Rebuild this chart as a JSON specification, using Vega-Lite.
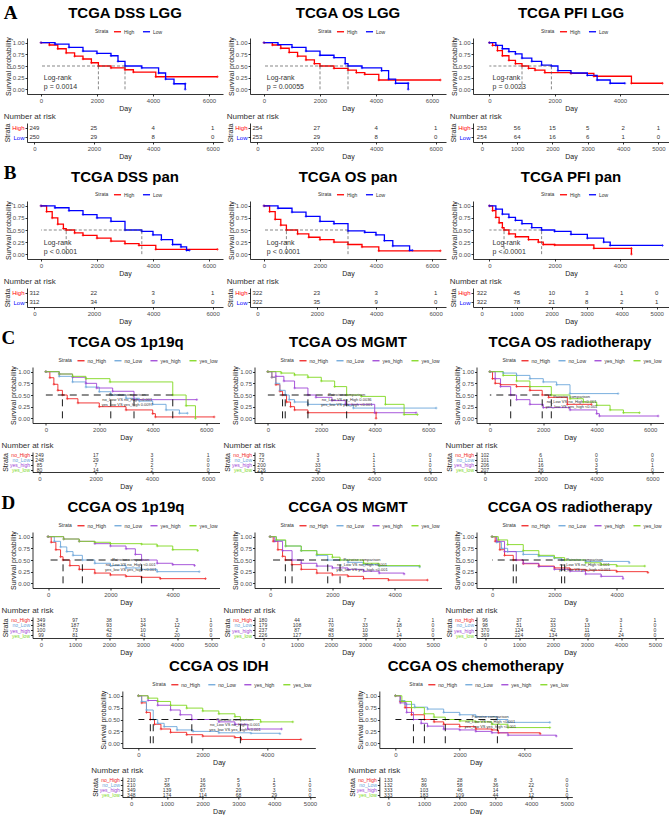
{
"$schema": "https://vega.github.io/schema/vega-lite/v6.json",
"padding": {"left": 1, "right": 1, "top": 3, "bottom": 1},
"datasets": {
"km": [
{"p":"A1","s":"High","t":0,"y":1},{"p":"A1","s":"High","t":300,"y":0.95},{"p":"A1","s":"High","t":600,"y":0.87},{"p":"A1","s":"High","t":900,"y":0.78},{"p":"A1","s":"High","t":1200,"y":0.71},{"p":"A1","s":"High","t":1500,"y":0.65},{"p":"A1","s":"High","t":1800,"y":0.57},{"p":"A1","s":"High","t":2050,"y":0.5},{"p":"A1","s":"High","t":2500,"y":0.46},{"p":"A1","s":"High","t":3000,"y":0.42},{"p":"A1","s":"High","t":3300,"y":0.37},{"p":"A1","s":"High","t":4100,"y":0.27},{"p":"A1","s":"High","t":6300,"y":0.27},
{"p":"A1","s":"Low","t":0,"y":1},{"p":"A1","s":"Low","t":500,"y":0.97},{"p":"A1","s":"Low","t":1000,"y":0.9},{"p":"A1","s":"Low","t":1500,"y":0.82},{"p":"A1","s":"Low","t":2000,"y":0.77},{"p":"A1","s":"Low","t":2500,"y":0.72},{"p":"A1","s":"Low","t":2750,"y":0.6},{"p":"A1","s":"Low","t":3000,"y":0.5},{"p":"A1","s":"Low","t":3600,"y":0.46},{"p":"A1","s":"Low","t":4200,"y":0.35},{"p":"A1","s":"Low","t":4450,"y":0.22},{"p":"A1","s":"Low","t":4750,"y":0.12},{"p":"A1","s":"Low","t":5150,"y":0.12},{"p":"A1","s":"Low","t":5150,"y":0},
{"p":"A2","s":"High","t":0,"y":1},{"p":"A2","s":"High","t":300,"y":0.95},{"p":"A2","s":"High","t":600,"y":0.88},{"p":"A2","s":"High","t":900,"y":0.79},{"p":"A2","s":"High","t":1200,"y":0.71},{"p":"A2","s":"High","t":1500,"y":0.63},{"p":"A2","s":"High","t":1800,"y":0.55},{"p":"A2","s":"High","t":2000,"y":0.5},{"p":"A2","s":"High","t":2500,"y":0.45},{"p":"A2","s":"High","t":3000,"y":0.41},{"p":"A2","s":"High","t":3300,"y":0.36},{"p":"A2","s":"High","t":3600,"y":0.32},{"p":"A2","s":"High","t":4100,"y":0.2},{"p":"A2","s":"High","t":6300,"y":0.2},
{"p":"A2","s":"Low","t":0,"y":1},{"p":"A2","s":"Low","t":500,"y":0.96},{"p":"A2","s":"Low","t":1000,"y":0.9},{"p":"A2","s":"Low","t":1500,"y":0.82},{"p":"A2","s":"Low","t":2000,"y":0.73},{"p":"A2","s":"Low","t":2500,"y":0.68},{"p":"A2","s":"Low","t":2900,"y":0.55},{"p":"A2","s":"Low","t":3000,"y":0.5},{"p":"A2","s":"Low","t":3500,"y":0.46},{"p":"A2","s":"Low","t":4200,"y":0.4},{"p":"A2","s":"Low","t":4450,"y":0.22},{"p":"A2","s":"Low","t":4700,"y":0.13},{"p":"A2","s":"Low","t":5150,"y":0.13},{"p":"A2","s":"Low","t":5150,"y":0},
{"p":"A3","s":"High","t":0,"y":1},{"p":"A3","s":"High","t":100,"y":0.94},{"p":"A3","s":"High","t":250,"y":0.83},{"p":"A3","s":"High","t":400,"y":0.72},{"p":"A3","s":"High","t":600,"y":0.62},{"p":"A3","s":"High","t":800,"y":0.55},{"p":"A3","s":"High","t":1000,"y":0.5},{"p":"A3","s":"High","t":1200,"y":0.45},{"p":"A3","s":"High","t":1400,"y":0.41},{"p":"A3","s":"High","t":1700,"y":0.36},{"p":"A3","s":"High","t":2500,"y":0.34},{"p":"A3","s":"High","t":3200,"y":0.28},{"p":"A3","s":"High","t":4350,"y":0.13},{"p":"A3","s":"High","t":5300,"y":0.13},
{"p":"A3","s":"Low","t":0,"y":1},{"p":"A3","s":"Low","t":200,"y":0.94},{"p":"A3","s":"Low","t":400,"y":0.87},{"p":"A3","s":"Low","t":600,"y":0.81},{"p":"A3","s":"Low","t":800,"y":0.76},{"p":"A3","s":"Low","t":1000,"y":0.67},{"p":"A3","s":"Low","t":1300,"y":0.6},{"p":"A3","s":"Low","t":1600,"y":0.52},{"p":"A3","s":"Low","t":1900,"y":0.5},{"p":"A3","s":"Low","t":2100,"y":0.4},{"p":"A3","s":"Low","t":2500,"y":0.35},{"p":"A3","s":"Low","t":3000,"y":0.3},{"p":"A3","s":"Low","t":3300,"y":0.2},{"p":"A3","s":"Low","t":3700,"y":0.13},{"p":"A3","s":"Low","t":4150,"y":0.13},
{"p":"B1","s":"High","t":0,"y":1},{"p":"B1","s":"High","t":200,"y":0.88},{"p":"B1","s":"High","t":400,"y":0.75},{"p":"B1","s":"High","t":600,"y":0.62},{"p":"B1","s":"High","t":800,"y":0.53},{"p":"B1","s":"High","t":900,"y":0.5},{"p":"B1","s":"High","t":1200,"y":0.44},{"p":"B1","s":"High","t":1500,"y":0.39},{"p":"B1","s":"High","t":2000,"y":0.33},{"p":"B1","s":"High","t":2500,"y":0.27},{"p":"B1","s":"High","t":3000,"y":0.22},{"p":"B1","s":"High","t":3500,"y":0.18},{"p":"B1","s":"High","t":4100,"y":0.1},{"p":"B1","s":"High","t":6300,"y":0.1},
{"p":"B1","s":"Low","t":0,"y":1},{"p":"B1","s":"Low","t":500,"y":0.96},{"p":"B1","s":"Low","t":1000,"y":0.9},{"p":"B1","s":"Low","t":1500,"y":0.82},{"p":"B1","s":"Low","t":2000,"y":0.75},{"p":"B1","s":"Low","t":2500,"y":0.68},{"p":"B1","s":"Low","t":3000,"y":0.5},{"p":"B1","s":"Low","t":3600,"y":0.47},{"p":"B1","s":"Low","t":4000,"y":0.4},{"p":"B1","s":"Low","t":4300,"y":0.3},{"p":"B1","s":"Low","t":4700,"y":0.2},{"p":"B1","s":"Low","t":5000,"y":0.15},{"p":"B1","s":"Low","t":5200,"y":0.08},{"p":"B1","s":"Low","t":5300,"y":0.08},
{"p":"B2","s":"High","t":0,"y":1},{"p":"B2","s":"High","t":200,"y":0.88},{"p":"B2","s":"High","t":400,"y":0.72},{"p":"B2","s":"High","t":600,"y":0.6},{"p":"B2","s":"High","t":800,"y":0.5},{"p":"B2","s":"High","t":1200,"y":0.42},{"p":"B2","s":"High","t":1600,"y":0.35},{"p":"B2","s":"High","t":2000,"y":0.3},{"p":"B2","s":"High","t":2500,"y":0.25},{"p":"B2","s":"High","t":3000,"y":0.2},{"p":"B2","s":"High","t":3500,"y":0.15},{"p":"B2","s":"High","t":4100,"y":0.07},{"p":"B2","s":"High","t":6300,"y":0.07},
{"p":"B2","s":"Low","t":0,"y":1},{"p":"B2","s":"Low","t":500,"y":0.95},{"p":"B2","s":"Low","t":1000,"y":0.87},{"p":"B2","s":"Low","t":1500,"y":0.78},{"p":"B2","s":"Low","t":2000,"y":0.68},{"p":"B2","s":"Low","t":2500,"y":0.63},{"p":"B2","s":"Low","t":3000,"y":0.48},{"p":"B2","s":"Low","t":3600,"y":0.45},{"p":"B2","s":"Low","t":4000,"y":0.4},{"p":"B2","s":"Low","t":4300,"y":0.28},{"p":"B2","s":"Low","t":4600,"y":0.17},{"p":"B2","s":"Low","t":5200,"y":0.08},{"p":"B2","s":"Low","t":5300,"y":0.08},
{"p":"B3","s":"High","t":0,"y":1},{"p":"B3","s":"High","t":100,"y":0.9},{"p":"B3","s":"High","t":200,"y":0.76},{"p":"B3","s":"High","t":300,"y":0.65},{"p":"B3","s":"High","t":400,"y":0.55},{"p":"B3","s":"High","t":450,"y":0.5},{"p":"B3","s":"High","t":600,"y":0.42},{"p":"B3","s":"High","t":800,"y":0.36},{"p":"B3","s":"High","t":1200,"y":0.3},{"p":"B3","s":"High","t":1500,"y":0.25},{"p":"B3","s":"High","t":1650,"y":0.2},{"p":"B3","s":"High","t":2000,"y":0.19},{"p":"B3","s":"High","t":3200,"y":0.12},{"p":"B3","s":"High","t":4350,"y":0.12},{"p":"B3","s":"High","t":4350,"y":0},
{"p":"B3","s":"Low","t":0,"y":1},{"p":"B3","s":"Low","t":200,"y":0.93},{"p":"B3","s":"Low","t":400,"y":0.83},{"p":"B3","s":"Low","t":600,"y":0.76},{"p":"B3","s":"Low","t":800,"y":0.7},{"p":"B3","s":"Low","t":1000,"y":0.63},{"p":"B3","s":"Low","t":1300,"y":0.55},{"p":"B3","s":"Low","t":1600,"y":0.5},{"p":"B3","s":"Low","t":2000,"y":0.47},{"p":"B3","s":"Low","t":2500,"y":0.41},{"p":"B3","s":"Low","t":3000,"y":0.33},{"p":"B3","s":"Low","t":3500,"y":0.25},{"p":"B3","s":"Low","t":3700,"y":0.18},{"p":"B3","s":"Low","t":5300,"y":0.18},
{"p":"C1","s":"no_High","t":0,"y":1},{"p":"C1","s":"no_High","t":150,"y":0.87},{"p":"C1","s":"no_High","t":300,"y":0.73},{"p":"C1","s":"no_High","t":450,"y":0.6},{"p":"C1","s":"no_High","t":620,"y":0.5},{"p":"C1","s":"no_High","t":800,"y":0.42},{"p":"C1","s":"no_High","t":1200,"y":0.33},{"p":"C1","s":"no_High","t":2000,"y":0.25},{"p":"C1","s":"no_High","t":3000,"y":0.18},{"p":"C1","s":"no_High","t":4000,"y":0.1},{"p":"C1","s":"no_High","t":4100,"y":0.03},{"p":"C1","s":"no_High","t":6300,"y":0.03},
{"p":"C1","s":"no_Low","t":0,"y":1},{"p":"C1","s":"no_Low","t":500,"y":0.9},{"p":"C1","s":"no_Low","t":1000,"y":0.78},{"p":"C1","s":"no_Low","t":1500,"y":0.67},{"p":"C1","s":"no_Low","t":2000,"y":0.57},{"p":"C1","s":"no_Low","t":2430,"y":0.5},{"p":"C1","s":"no_Low","t":3000,"y":0.43},{"p":"C1","s":"no_Low","t":3500,"y":0.37},{"p":"C1","s":"no_Low","t":4000,"y":0.3},{"p":"C1","s":"no_Low","t":4500,"y":0.18},{"p":"C1","s":"no_Low","t":5000,"y":0.11},{"p":"C1","s":"no_Low","t":5300,"y":0.11},
{"p":"C1","s":"yes_high","t":0,"y":1},{"p":"C1","s":"yes_high","t":500,"y":0.95},{"p":"C1","s":"yes_high","t":1000,"y":0.88},{"p":"C1","s":"yes_high","t":1500,"y":0.75},{"p":"C1","s":"yes_high","t":1900,"y":0.65},{"p":"C1","s":"yes_high","t":2500,"y":0.58},{"p":"C1","s":"yes_high","t":3300,"y":0.4},{"p":"C1","s":"yes_high","t":5650,"y":0.4},
{"p":"C1","s":"yes_low","t":0,"y":1},{"p":"C1","s":"yes_low","t":500,"y":0.95},{"p":"C1","s":"yes_low","t":1000,"y":0.9},{"p":"C1","s":"yes_low","t":1500,"y":0.85},{"p":"C1","s":"yes_low","t":2400,"y":0.78},{"p":"C1","s":"yes_low","t":4750,"y":0.5},{"p":"C1","s":"yes_low","t":5250,"y":0.27},{"p":"C1","s":"yes_low","t":5600,"y":0},
{"p":"C2","s":"no_High","t":0,"y":1},{"p":"C2","s":"no_High","t":150,"y":0.88},{"p":"C2","s":"no_High","t":300,"y":0.72},{"p":"C2","s":"no_High","t":450,"y":0.58},{"p":"C2","s":"no_High","t":550,"y":0.5},{"p":"C2","s":"no_High","t":700,"y":0.35},{"p":"C2","s":"no_High","t":850,"y":0.25},{"p":"C2","s":"no_High","t":1000,"y":0.18},{"p":"C2","s":"no_High","t":1500,"y":0.12},{"p":"C2","s":"no_High","t":4050,"y":0.12},{"p":"C2","s":"no_High","t":4050,"y":0},
{"p":"C2","s":"no_Low","t":0,"y":1},{"p":"C2","s":"no_Low","t":150,"y":0.88},{"p":"C2","s":"no_Low","t":300,"y":0.75},{"p":"C2","s":"no_Low","t":450,"y":0.6},{"p":"C2","s":"no_Low","t":650,"y":0.5},{"p":"C2","s":"no_Low","t":800,"y":0.4},{"p":"C2","s":"no_Low","t":1000,"y":0.35},{"p":"C2","s":"no_Low","t":1500,"y":0.3},{"p":"C2","s":"no_Low","t":3000,"y":0.28},{"p":"C2","s":"no_Low","t":3200,"y":0.22},{"p":"C2","s":"no_Low","t":6300,"y":0.22},
{"p":"C2","s":"yes_high","t":0,"y":1},{"p":"C2","s":"yes_high","t":300,"y":0.9},{"p":"C2","s":"yes_high","t":600,"y":0.8},{"p":"C2","s":"yes_high","t":1000,"y":0.65},{"p":"C2","s":"yes_high","t":1500,"y":0.5},{"p":"C2","s":"yes_high","t":1800,"y":0.45},{"p":"C2","s":"yes_high","t":2400,"y":0.38},{"p":"C2","s":"yes_high","t":2900,"y":0.3},{"p":"C2","s":"yes_high","t":4000,"y":0.12},{"p":"C2","s":"yes_high","t":5550,"y":0.12},
{"p":"C2","s":"yes_low","t":0,"y":1},{"p":"C2","s":"yes_low","t":500,"y":0.97},{"p":"C2","s":"yes_low","t":1000,"y":0.93},{"p":"C2","s":"yes_low","t":1500,"y":0.88},{"p":"C2","s":"yes_low","t":2000,"y":0.8},{"p":"C2","s":"yes_low","t":2500,"y":0.68},{"p":"C2","s":"yes_low","t":2950,"y":0.5},{"p":"C2","s":"yes_low","t":3500,"y":0.47},{"p":"C2","s":"yes_low","t":4400,"y":0.3},{"p":"C2","s":"yes_low","t":5100,"y":0.08},{"p":"C2","s":"yes_low","t":5600,"y":0.08},
{"p":"C3","s":"no_High","t":0,"y":1},{"p":"C3","s":"no_High","t":100,"y":0.85},{"p":"C3","s":"no_High","t":200,"y":0.75},{"p":"C3","s":"no_High","t":400,"y":0.72},{"p":"C3","s":"no_High","t":1000,"y":0.68},{"p":"C3","s":"no_High","t":1500,"y":0.6},{"p":"C3","s":"no_High","t":1960,"y":0.5},{"p":"C3","s":"no_High","t":2200,"y":0.45},{"p":"C3","s":"no_High","t":2900,"y":0.3},{"p":"C3","s":"no_High","t":3800,"y":0.3},
{"p":"C3","s":"no_Low","t":0,"y":1},{"p":"C3","s":"no_Low","t":500,"y":0.97},{"p":"C3","s":"no_Low","t":1000,"y":0.92},{"p":"C3","s":"no_Low","t":1500,"y":0.85},{"p":"C3","s":"no_Low","t":2000,"y":0.78},{"p":"C3","s":"no_Low","t":2500,"y":0.72},{"p":"C3","s":"no_Low","t":3000,"y":0.53},{"p":"C3","s":"no_Low","t":4800,"y":0.53},
{"p":"C3","s":"yes_high","t":0,"y":1},{"p":"C3","s":"yes_high","t":200,"y":0.85},{"p":"C3","s":"yes_high","t":400,"y":0.68},{"p":"C3","s":"yes_high","t":780,"y":0.5},{"p":"C3","s":"yes_high","t":1000,"y":0.4},{"p":"C3","s":"yes_high","t":1500,"y":0.3},{"p":"C3","s":"yes_high","t":2000,"y":0.23},{"p":"C3","s":"yes_high","t":3000,"y":0.18},{"p":"C3","s":"yes_high","t":4000,"y":0.1},{"p":"C3","s":"yes_high","t":4100,"y":0.05},{"p":"C3","s":"yes_high","t":6300,"y":0.05},
{"p":"C3","s":"yes_low","t":0,"y":1},{"p":"C3","s":"yes_low","t":500,"y":0.92},{"p":"C3","s":"yes_low","t":1000,"y":0.8},{"p":"C3","s":"yes_low","t":1500,"y":0.68},{"p":"C3","s":"yes_low","t":2300,"y":0.5},{"p":"C3","s":"yes_low","t":3000,"y":0.42},{"p":"C3","s":"yes_low","t":3500,"y":0.35},{"p":"C3","s":"yes_low","t":4000,"y":0.28},{"p":"C3","s":"yes_low","t":4500,"y":0.18},{"p":"C3","s":"yes_low","t":5000,"y":0.12},{"p":"C3","s":"yes_low","t":5600,"y":0.12},
{"p":"D1","s":"no_High","t":0,"y":1},{"p":"D1","s":"no_High","t":100,"y":0.88},{"p":"D1","s":"no_High","t":250,"y":0.72},{"p":"D1","s":"no_High","t":400,"y":0.57},{"p":"D1","s":"no_High","t":480,"y":0.5},{"p":"D1","s":"no_High","t":700,"y":0.38},{"p":"D1","s":"no_High","t":1000,"y":0.3},{"p":"D1","s":"no_High","t":1500,"y":0.22},{"p":"D1","s":"no_High","t":2000,"y":0.18},{"p":"D1","s":"no_High","t":2500,"y":0.15},{"p":"D1","s":"no_High","t":3000,"y":0.13},{"p":"D1","s":"no_High","t":3600,"y":0.1},{"p":"D1","s":"no_High","t":5050,"y":0.1},
{"p":"D1","s":"no_Low","t":0,"y":1},{"p":"D1","s":"no_Low","t":200,"y":0.9},{"p":"D1","s":"no_Low","t":400,"y":0.78},{"p":"D1","s":"no_Low","t":600,"y":0.68},{"p":"D1","s":"no_Low","t":800,"y":0.6},{"p":"D1","s":"no_Low","t":1100,"y":0.5},{"p":"D1","s":"no_Low","t":1500,"y":0.43},{"p":"D1","s":"no_Low","t":2000,"y":0.38},{"p":"D1","s":"no_Low","t":2500,"y":0.33},{"p":"D1","s":"no_Low","t":3000,"y":0.3},{"p":"D1","s":"no_Low","t":3500,"y":0.25},{"p":"D1","s":"no_Low","t":4850,"y":0.25},
{"p":"D1","s":"yes_high","t":0,"y":1},{"p":"D1","s":"yes_high","t":500,"y":0.95},{"p":"D1","s":"yes_high","t":1000,"y":0.9},{"p":"D1","s":"yes_high","t":1500,"y":0.85},{"p":"D1","s":"yes_high","t":2000,"y":0.8},{"p":"D1","s":"yes_high","t":2500,"y":0.74},{"p":"D1","s":"yes_high","t":2800,"y":0.62},{"p":"D1","s":"yes_high","t":3000,"y":0.5},{"p":"D1","s":"yes_high","t":3500,"y":0.43},{"p":"D1","s":"yes_high","t":4000,"y":0.4},{"p":"D1","s":"yes_high","t":4700,"y":0.38},
{"p":"D1","s":"yes_low","t":0,"y":1},{"p":"D1","s":"yes_low","t":500,"y":0.95},{"p":"D1","s":"yes_low","t":1000,"y":0.9},{"p":"D1","s":"yes_low","t":1500,"y":0.88},{"p":"D1","s":"yes_low","t":2000,"y":0.85},{"p":"D1","s":"yes_low","t":3000,"y":0.84},{"p":"D1","s":"yes_low","t":3500,"y":0.8},{"p":"D1","s":"yes_low","t":4000,"y":0.72},{"p":"D1","s":"yes_low","t":4800,"y":0.7},
{"p":"D2","s":"no_High","t":0,"y":1},{"p":"D2","s":"no_High","t":100,"y":0.9},{"p":"D2","s":"no_High","t":250,"y":0.72},{"p":"D2","s":"no_High","t":400,"y":0.58},{"p":"D2","s":"no_High","t":490,"y":0.5},{"p":"D2","s":"no_High","t":700,"y":0.4},{"p":"D2","s":"no_High","t":1000,"y":0.3},{"p":"D2","s":"no_High","t":1500,"y":0.22},{"p":"D2","s":"no_High","t":2000,"y":0.18},{"p":"D2","s":"no_High","t":2500,"y":0.15},{"p":"D2","s":"no_High","t":3000,"y":0.1},{"p":"D2","s":"no_High","t":3800,"y":0.07},{"p":"D2","s":"no_High","t":5050,"y":0.07},
{"p":"D2","s":"no_Low","t":0,"y":1},{"p":"D2","s":"no_Low","t":200,"y":0.92},{"p":"D2","s":"no_Low","t":500,"y":0.8},{"p":"D2","s":"no_Low","t":1000,"y":0.7},{"p":"D2","s":"no_Low","t":1500,"y":0.6},{"p":"D2","s":"no_Low","t":1850,"y":0.5},{"p":"D2","s":"no_Low","t":2500,"y":0.45},{"p":"D2","s":"no_Low","t":3000,"y":0.4},{"p":"D2","s":"no_Low","t":3500,"y":0.37},{"p":"D2","s":"no_Low","t":4800,"y":0.35},
{"p":"D2","s":"yes_high","t":0,"y":1},{"p":"D2","s":"yes_high","t":150,"y":0.9},{"p":"D2","s":"yes_high","t":400,"y":0.7},{"p":"D2","s":"yes_high","t":705,"y":0.5},{"p":"D2","s":"yes_high","t":1000,"y":0.43},{"p":"D2","s":"yes_high","t":1500,"y":0.37},{"p":"D2","s":"yes_high","t":2000,"y":0.33},{"p":"D2","s":"yes_high","t":2500,"y":0.3},{"p":"D2","s":"yes_high","t":3000,"y":0.26},{"p":"D2","s":"yes_high","t":3500,"y":0.22},{"p":"D2","s":"yes_high","t":4300,"y":0.2},
{"p":"D2","s":"yes_low","t":0,"y":1},{"p":"D2","s":"yes_low","t":200,"y":0.93},{"p":"D2","s":"yes_low","t":500,"y":0.8},{"p":"D2","s":"yes_low","t":1000,"y":0.7},{"p":"D2","s":"yes_low","t":1500,"y":0.62},{"p":"D2","s":"yes_low","t":2000,"y":0.56},{"p":"D2","s":"yes_low","t":2245,"y":0.5},{"p":"D2","s":"yes_low","t":3000,"y":0.43},{"p":"D2","s":"yes_low","t":3500,"y":0.38},{"p":"D2","s":"yes_low","t":4800,"y":0.37},
{"p":"D3","s":"no_High","t":0,"y":1},{"p":"D3","s":"no_High","t":100,"y":0.9},{"p":"D3","s":"no_High","t":250,"y":0.72},{"p":"D3","s":"no_High","t":400,"y":0.6},{"p":"D3","s":"no_High","t":680,"y":0.5},{"p":"D3","s":"no_High","t":1000,"y":0.42},{"p":"D3","s":"no_High","t":1500,"y":0.37},{"p":"D3","s":"no_High","t":2000,"y":0.33},{"p":"D3","s":"no_High","t":2500,"y":0.3},{"p":"D3","s":"no_High","t":3000,"y":0.28},{"p":"D3","s":"no_High","t":4000,"y":0.25},{"p":"D3","s":"no_High","t":5000,"y":0.23},
{"p":"D3","s":"no_Low","t":0,"y":1},{"p":"D3","s":"no_Low","t":150,"y":0.88},{"p":"D3","s":"no_Low","t":300,"y":0.75},{"p":"D3","s":"no_Low","t":500,"y":0.68},{"p":"D3","s":"no_Low","t":1000,"y":0.62},{"p":"D3","s":"no_Low","t":1500,"y":0.58},{"p":"D3","s":"no_Low","t":2000,"y":0.54},{"p":"D3","s":"no_Low","t":2230,"y":0.5},{"p":"D3","s":"no_Low","t":3000,"y":0.47},{"p":"D3","s":"no_Low","t":4400,"y":0.44},
{"p":"D3","s":"yes_high","t":0,"y":1},{"p":"D3","s":"yes_high","t":150,"y":0.9},{"p":"D3","s":"yes_high","t":400,"y":0.68},{"p":"D3","s":"yes_high","t":775,"y":0.5},{"p":"D3","s":"yes_high","t":1000,"y":0.43},{"p":"D3","s":"yes_high","t":1500,"y":0.36},{"p":"D3","s":"yes_high","t":2000,"y":0.3},{"p":"D3","s":"yes_high","t":2500,"y":0.26},{"p":"D3","s":"yes_high","t":3000,"y":0.2},{"p":"D3","s":"yes_high","t":3500,"y":0.15},{"p":"D3","s":"yes_high","t":4200,"y":0.1},
{"p":"D3","s":"yes_low","t":0,"y":1},{"p":"D3","s":"yes_low","t":200,"y":0.93},{"p":"D3","s":"yes_low","t":500,"y":0.83},{"p":"D3","s":"yes_low","t":1000,"y":0.7},{"p":"D3","s":"yes_low","t":1500,"y":0.6},{"p":"D3","s":"yes_low","t":2000,"y":0.55},{"p":"D3","s":"yes_low","t":2330,"y":0.5},{"p":"D3","s":"yes_low","t":3000,"y":0.44},{"p":"D3","s":"yes_low","t":3500,"y":0.4},{"p":"D3","s":"yes_low","t":4000,"y":0.37},{"p":"D3","s":"yes_low","t":4900,"y":0.37},
{"p":"E1","s":"no_High","t":0,"y":1},{"p":"E1","s":"no_High","t":100,"y":0.85},{"p":"E1","s":"no_High","t":250,"y":0.65},{"p":"E1","s":"no_High","t":370,"y":0.5},{"p":"E1","s":"no_High","t":500,"y":0.4},{"p":"E1","s":"no_High","t":700,"y":0.3},{"p":"E1","s":"no_High","t":1000,"y":0.23},{"p":"E1","s":"no_High","t":1500,"y":0.18},{"p":"E1","s":"no_High","t":2000,"y":0.15},{"p":"E1","s":"no_High","t":3000,"y":0.12},{"p":"E1","s":"no_High","t":3200,"y":0.08},{"p":"E1","s":"no_High","t":5050,"y":0.08},
{"p":"E1","s":"no_Low","t":0,"y":1},{"p":"E1","s":"no_Low","t":100,"y":0.88},{"p":"E1","s":"no_Low","t":250,"y":0.7},{"p":"E1","s":"no_Low","t":460,"y":0.5},{"p":"E1","s":"no_Low","t":600,"y":0.42},{"p":"E1","s":"no_Low","t":800,"y":0.35},{"p":"E1","s":"no_Low","t":1200,"y":0.28},{"p":"E1","s":"no_Low","t":1700,"y":0.25},{"p":"E1","s":"no_Low","t":2500,"y":0.22},{"p":"E1","s":"no_Low","t":3500,"y":0.21},{"p":"E1","s":"no_Low","t":4400,"y":0.2},
{"p":"E1","s":"yes_high","t":0,"y":1},{"p":"E1","s":"yes_high","t":300,"y":0.9},{"p":"E1","s":"yes_high","t":600,"y":0.8},{"p":"E1","s":"yes_high","t":1000,"y":0.7},{"p":"E1","s":"yes_high","t":1300,"y":0.6},{"p":"E1","s":"yes_high","t":1660,"y":0.5},{"p":"E1","s":"yes_high","t":2500,"y":0.45},{"p":"E1","s":"yes_high","t":3000,"y":0.4},{"p":"E1","s":"yes_high","t":3400,"y":0.3},{"p":"E1","s":"yes_high","t":4450,"y":0.3},
{"p":"E1","s":"yes_low","t":0,"y":1},{"p":"E1","s":"yes_low","t":300,"y":0.95},{"p":"E1","s":"yes_low","t":600,"y":0.88},{"p":"E1","s":"yes_low","t":1000,"y":0.8},{"p":"E1","s":"yes_low","t":1500,"y":0.74},{"p":"E1","s":"yes_low","t":2000,"y":0.68},{"p":"E1","s":"yes_low","t":2500,"y":0.62},{"p":"E1","s":"yes_low","t":3000,"y":0.56},{"p":"E1","s":"yes_low","t":3170,"y":0.5},{"p":"E1","s":"yes_low","t":3800,"y":0.45},{"p":"E1","s":"yes_low","t":4800,"y":0.45},
{"p":"E2","s":"no_High","t":0,"y":1},{"p":"E2","s":"no_High","t":150,"y":0.88},{"p":"E2","s":"no_High","t":300,"y":0.75},{"p":"E2","s":"no_High","t":500,"y":0.6},{"p":"E2","s":"no_High","t":900,"y":0.5},{"p":"E2","s":"no_High","t":1200,"y":0.45},{"p":"E2","s":"no_High","t":1500,"y":0.4},{"p":"E2","s":"no_High","t":2000,"y":0.35},{"p":"E2","s":"no_High","t":2500,"y":0.3},{"p":"E2","s":"no_High","t":3000,"y":0.28},{"p":"E2","s":"no_High","t":3200,"y":0.22},{"p":"E2","s":"no_High","t":4500,"y":0.2},
{"p":"E2","s":"no_Low","t":0,"y":1},{"p":"E2","s":"no_Low","t":150,"y":0.9},{"p":"E2","s":"no_Low","t":300,"y":0.82},{"p":"E2","s":"no_Low","t":600,"y":0.76},{"p":"E2","s":"no_Low","t":1000,"y":0.72},{"p":"E2","s":"no_Low","t":1500,"y":0.65},{"p":"E2","s":"no_Low","t":2000,"y":0.6},{"p":"E2","s":"no_Low","t":2500,"y":0.56},{"p":"E2","s":"no_Low","t":3170,"y":0.5},{"p":"E2","s":"no_Low","t":3500,"y":0.44},{"p":"E2","s":"no_Low","t":4800,"y":0.44},
{"p":"E2","s":"yes_high","t":0,"y":1},{"p":"E2","s":"yes_high","t":150,"y":0.85},{"p":"E2","s":"yes_high","t":350,"y":0.65},{"p":"E2","s":"yes_high","t":560,"y":0.5},{"p":"E2","s":"yes_high","t":800,"y":0.42},{"p":"E2","s":"yes_high","t":1000,"y":0.36},{"p":"E2","s":"yes_high","t":1500,"y":0.3},{"p":"E2","s":"yes_high","t":2000,"y":0.28},{"p":"E2","s":"yes_high","t":2500,"y":0.25},{"p":"E2","s":"yes_high","t":3000,"y":0.22},{"p":"E2","s":"yes_high","t":3500,"y":0.17},{"p":"E2","s":"yes_high","t":5000,"y":0.15},
{"p":"E2","s":"yes_low","t":0,"y":1},{"p":"E2","s":"yes_low","t":200,"y":0.88},{"p":"E2","s":"yes_low","t":500,"y":0.75},{"p":"E2","s":"yes_low","t":900,"y":0.62},{"p":"E2","s":"yes_low","t":1200,"y":0.55},{"p":"E2","s":"yes_low","t":1550,"y":0.5},{"p":"E2","s":"yes_low","t":2000,"y":0.47},{"p":"E2","s":"yes_low","t":2500,"y":0.45},{"p":"E2","s":"yes_low","t":3000,"y":0.4},{"p":"E2","s":"yes_low","t":3500,"y":0.33},{"p":"E2","s":"yes_low","t":4800,"y":0.33}
],
"med": [
{"p":"A1","t":2050},{"p":"A1","t":3000},{"p":"A2","t":2000},{"p":"A2","t":3000},{"p":"A3","t":1000},{"p":"A3","t":1900},
{"p":"B1","t":900},{"p":"B1","t":3600},{"p":"B2","t":800},{"p":"B2","t":3000},{"p":"B3","t":450},{"p":"B3","t":1600},
{"p":"C1","t":620},{"p":"C1","t":2430},{"p":"C1","t":3300},{"p":"C1","t":4750},
{"p":"C2","t":550},{"p":"C2","t":650},{"p":"C2","t":1500},{"p":"C2","t":2950},
{"p":"C3","t":780},{"p":"C3","t":1960},{"p":"C3","t":2300},
{"p":"D1","t":480},{"p":"D1","t":1100},{"p":"D1","t":3000},
{"p":"D2","t":490},{"p":"D2","t":705},{"p":"D2","t":1850},{"p":"D2","t":2245},
{"p":"D3","t":680},{"p":"D3","t":775},{"p":"D3","t":2230},{"p":"D3","t":2330},
{"p":"E1","t":370},{"p":"E1","t":460},{"p":"E1","t":1660},{"p":"E1","t":3170},
{"p":"E2","t":560},{"p":"E2","t":900},{"p":"E2","t":1550},{"p":"E2","t":3170}
],
"ann": [
{"p":"A1","label":"Log-rank|p = 0.0014"},{"p":"A2","label":"Log-rank|p = 0.00055"},{"p":"A3","label":"Log-rank|p = 0.0023"},
{"p":"B1","label":"Log-rank|p < 0.0001"},{"p":"B2","label":"Log-rank|p < 0.0001"},{"p":"B3","label":"Log-rank|p < 0.0001"},
{"p":"C1","label":"Pairwise comparison|no_Low VS no_High <0.001|yes_low VS yes_high 0.0097"},
{"p":"C2","label":"Pairwise comparison|no_Low VS no_High 0.0036|yes_low VS yes_high <0.001"},
{"p":"C3","label":"Pairwise comparison|no_Low VS no_High <0.001|yes_low VS yes_high <0.001"},
{"p":"D1","label":"Pairwise comparison|no_Low VS no_High <0.001|yes_low VS yes_high <0.001"},
{"p":"D2","label":"Pairwise comparison|no_Low VS no_High <0.001|yes_low VS yes_high <0.001"},
{"p":"D3","label":"Pairwise comparison|no_Low VS no_High <0.001|yes_low VS yes_high <0.001"},
{"p":"E1","label":"Pairwise comparison|no_Low VS no_High <0.001|yes_low VS yes_high <0.001"},
{"p":"E2","label":"Pairwise comparison|no_Low VS no_High <0.001|yes_low VS yes_high <0.001"}
],
"risk": [
{"p":"A1","s":"High","t":0,"n":249},{"p":"A1","s":"High","t":2000,"n":25},{"p":"A1","s":"High","t":4000,"n":4},{"p":"A1","s":"High","t":6000,"n":1},
{"p":"A1","s":"Low","t":0,"n":250},{"p":"A1","s":"Low","t":2000,"n":29},{"p":"A1","s":"Low","t":4000,"n":8},{"p":"A1","s":"Low","t":6000,"n":0},
{"p":"A2","s":"High","t":0,"n":254},{"p":"A2","s":"High","t":2000,"n":27},{"p":"A2","s":"High","t":4000,"n":4},{"p":"A2","s":"High","t":6000,"n":1},
{"p":"A2","s":"Low","t":0,"n":253},{"p":"A2","s":"Low","t":2000,"n":29},{"p":"A2","s":"Low","t":4000,"n":8},{"p":"A2","s":"Low","t":6000,"n":0},
{"p":"A3","s":"High","t":0,"n":253},{"p":"A3","s":"High","t":1000,"n":56},{"p":"A3","s":"High","t":2000,"n":15},{"p":"A3","s":"High","t":3000,"n":5},{"p":"A3","s":"High","t":4000,"n":2},{"p":"A3","s":"High","t":5000,"n":1},
{"p":"A3","s":"Low","t":0,"n":254},{"p":"A3","s":"Low","t":1000,"n":64},{"p":"A3","s":"Low","t":2000,"n":16},{"p":"A3","s":"Low","t":3000,"n":6},{"p":"A3","s":"Low","t":4000,"n":1},{"p":"A3","s":"Low","t":5000,"n":0},
{"p":"B1","s":"High","t":0,"n":312},{"p":"B1","s":"High","t":2000,"n":22},{"p":"B1","s":"High","t":4000,"n":3},{"p":"B1","s":"High","t":6000,"n":1},
{"p":"B1","s":"Low","t":0,"n":312},{"p":"B1","s":"Low","t":2000,"n":34},{"p":"B1","s":"Low","t":4000,"n":9},{"p":"B1","s":"Low","t":6000,"n":0},
{"p":"B2","s":"High","t":0,"n":322},{"p":"B2","s":"High","t":2000,"n":23},{"p":"B2","s":"High","t":4000,"n":3},{"p":"B2","s":"High","t":6000,"n":1},
{"p":"B2","s":"Low","t":0,"n":322},{"p":"B2","s":"Low","t":2000,"n":35},{"p":"B2","s":"Low","t":4000,"n":9},{"p":"B2","s":"Low","t":6000,"n":0},
{"p":"B3","s":"High","t":0,"n":322},{"p":"B3","s":"High","t":1000,"n":45},{"p":"B3","s":"High","t":2000,"n":10},{"p":"B3","s":"High","t":3000,"n":3},{"p":"B3","s":"High","t":4000,"n":1},{"p":"B3","s":"High","t":5000,"n":0},
{"p":"B3","s":"Low","t":0,"n":322},{"p":"B3","s":"Low","t":1000,"n":78},{"p":"B3","s":"Low","t":2000,"n":21},{"p":"B3","s":"Low","t":3000,"n":8},{"p":"B3","s":"Low","t":4000,"n":2},{"p":"B3","s":"Low","t":5000,"n":1},
{"p":"C1","s":"no_High","t":0,"n":249},{"p":"C1","s":"no_High","t":2000,"n":17},{"p":"C1","s":"no_High","t":4000,"n":3},{"p":"C1","s":"no_High","t":6000,"n":1},
{"p":"C1","s":"no_Low","t":0,"n":248},{"p":"C1","s":"no_Low","t":2000,"n":29},{"p":"C1","s":"no_Low","t":4000,"n":3},{"p":"C1","s":"no_Low","t":6000,"n":0},
{"p":"C1","s":"yes_high","t":0,"n":85},{"p":"C1","s":"yes_high","t":2000,"n":7},{"p":"C1","s":"yes_high","t":4000,"n":2},{"p":"C1","s":"yes_high","t":6000,"n":0},
{"p":"C1","s":"yes_low","t":0,"n":80},{"p":"C1","s":"yes_low","t":2000,"n":14},{"p":"C1","s":"yes_low","t":4000,"n":2},{"p":"C1","s":"yes_low","t":6000,"n":0},
{"p":"C2","s":"no_High","t":0,"n":79},{"p":"C2","s":"no_High","t":2000,"n":3},{"p":"C2","s":"no_High","t":4000,"n":1},{"p":"C2","s":"no_High","t":6000,"n":0},
{"p":"C2","s":"no_Low","t":0,"n":72},{"p":"C2","s":"no_Low","t":2000,"n":3},{"p":"C2","s":"no_Low","t":4000,"n":1},{"p":"C2","s":"no_Low","t":6000,"n":1},
{"p":"C2","s":"yes_high","t":0,"n":200},{"p":"C2","s":"yes_high","t":2000,"n":33},{"p":"C2","s":"yes_high","t":4000,"n":1},{"p":"C2","s":"yes_high","t":6000,"n":0},
{"p":"C2","s":"yes_low","t":0,"n":226},{"p":"C2","s":"yes_low","t":2000,"n":42},{"p":"C2","s":"yes_low","t":4000,"n":3},{"p":"C2","s":"yes_low","t":6000,"n":0},
{"p":"C3","s":"no_High","t":0,"n":102},{"p":"C3","s":"no_High","t":2000,"n":6},{"p":"C3","s":"no_High","t":4000,"n":0},{"p":"C3","s":"no_High","t":6000,"n":0},
{"p":"C3","s":"no_Low","t":0,"n":101},{"p":"C3","s":"no_Low","t":2000,"n":11},{"p":"C3","s":"no_Low","t":4000,"n":0},{"p":"C3","s":"no_Low","t":6000,"n":0},
{"p":"C3","s":"yes_high","t":0,"n":206},{"p":"C3","s":"yes_high","t":2000,"n":16},{"p":"C3","s":"yes_high","t":4000,"n":3},{"p":"C3","s":"yes_high","t":6000,"n":1},
{"p":"C3","s":"yes_low","t":0,"n":207},{"p":"C3","s":"yes_low","t":2000,"n":26},{"p":"C3","s":"yes_low","t":4000,"n":5},{"p":"C3","s":"yes_low","t":6000,"n":0},
{"p":"D1","s":"no_High","t":0,"n":349},{"p":"D1","s":"no_High","t":1000,"n":97},{"p":"D1","s":"no_High","t":2000,"n":38},{"p":"D1","s":"no_High","t":3000,"n":13},{"p":"D1","s":"no_High","t":4000,"n":3},{"p":"D1","s":"no_High","t":5000,"n":1},
{"p":"D1","s":"no_Low","t":0,"n":348},{"p":"D1","s":"no_Low","t":1000,"n":187},{"p":"D1","s":"no_Low","t":2000,"n":93},{"p":"D1","s":"no_Low","t":3000,"n":34},{"p":"D1","s":"no_Low","t":4000,"n":12},{"p":"D1","s":"no_Low","t":5000,"n":0},
{"p":"D1","s":"yes_high","t":0,"n":100},{"p":"D1","s":"yes_high","t":1000,"n":73},{"p":"D1","s":"yes_high","t":2000,"n":42},{"p":"D1","s":"yes_high","t":3000,"n":10},{"p":"D1","s":"yes_high","t":4000,"n":2},{"p":"D1","s":"yes_high","t":5000,"n":0},
{"p":"D1","s":"yes_low","t":0,"n":99},{"p":"D1","s":"yes_low","t":1000,"n":81},{"p":"D1","s":"yes_low","t":2000,"n":62},{"p":"D1","s":"yes_low","t":3000,"n":41},{"p":"D1","s":"yes_low","t":4000,"n":20},{"p":"D1","s":"yes_low","t":5000,"n":0},
{"p":"D2","s":"no_High","t":0,"n":180},{"p":"D2","s":"no_High","t":1000,"n":44},{"p":"D2","s":"no_High","t":2000,"n":21},{"p":"D2","s":"no_High","t":3000,"n":7},{"p":"D2","s":"no_High","t":4000,"n":2},{"p":"D2","s":"no_High","t":5000,"n":1},
{"p":"D2","s":"no_Low","t":0,"n":179},{"p":"D2","s":"no_Low","t":1000,"n":108},{"p":"D2","s":"no_Low","t":2000,"n":70},{"p":"D2","s":"no_Low","t":3000,"n":33},{"p":"D2","s":"no_Low","t":4000,"n":18},{"p":"D2","s":"no_Low","t":5000,"n":0},
{"p":"D2","s":"yes_high","t":0,"n":237},{"p":"D2","s":"yes_high","t":1000,"n":87},{"p":"D2","s":"yes_high","t":2000,"n":48},{"p":"D2","s":"yes_high","t":3000,"n":10},{"p":"D2","s":"yes_high","t":4000,"n":1},{"p":"D2","s":"yes_high","t":5000,"n":0},
{"p":"D2","s":"yes_low","t":0,"n":226},{"p":"D2","s":"yes_low","t":1000,"n":127},{"p":"D2","s":"yes_low","t":2000,"n":83},{"p":"D2","s":"yes_low","t":3000,"n":38},{"p":"D2","s":"yes_low","t":4000,"n":14},{"p":"D2","s":"yes_low","t":5000,"n":0},
{"p":"D3","s":"no_High","t":0,"n":96},{"p":"D3","s":"no_High","t":1000,"n":37},{"p":"D3","s":"no_High","t":2000,"n":22},{"p":"D3","s":"no_High","t":3000,"n":9},{"p":"D3","s":"no_High","t":4000,"n":3},{"p":"D3","s":"no_High","t":5000,"n":1},
{"p":"D3","s":"no_Low","t":0,"n":98},{"p":"D3","s":"no_Low","t":1000,"n":51},{"p":"D3","s":"no_Low","t":2000,"n":33},{"p":"D3","s":"no_Low","t":3000,"n":13},{"p":"D3","s":"no_Low","t":4000,"n":1},{"p":"D3","s":"no_Low","t":5000,"n":0},
{"p":"D3","s":"yes_high","t":0,"n":370},{"p":"D3","s":"yes_high","t":1000,"n":124},{"p":"D3","s":"yes_high","t":2000,"n":42},{"p":"D3","s":"yes_high","t":3000,"n":11},{"p":"D3","s":"yes_high","t":4000,"n":2},{"p":"D3","s":"yes_high","t":5000,"n":0},
{"p":"D3","s":"yes_low","t":0,"n":369},{"p":"D3","s":"yes_low","t":1000,"n":224},{"p":"D3","s":"yes_low","t":2000,"n":134},{"p":"D3","s":"yes_low","t":3000,"n":69},{"p":"D3","s":"yes_low","t":4000,"n":24},{"p":"D3","s":"yes_low","t":5000,"n":0},
{"p":"E1","s":"no_High","t":0,"n":210},{"p":"E1","s":"no_High","t":1000,"n":37},{"p":"E1","s":"no_High","t":2000,"n":16},{"p":"E1","s":"no_High","t":3000,"n":5},{"p":"E1","s":"no_High","t":4000,"n":1},{"p":"E1","s":"no_High","t":5000,"n":1},
{"p":"E1","s":"no_Low","t":0,"n":210},{"p":"E1","s":"no_Low","t":1000,"n":58},{"p":"E1","s":"no_Low","t":2000,"n":26},{"p":"E1","s":"no_Low","t":3000,"n":9},{"p":"E1","s":"no_Low","t":4000,"n":5},{"p":"E1","s":"no_Low","t":5000,"n":0},
{"p":"E1","s":"yes_high","t":0,"n":349},{"p":"E1","s":"yes_high","t":1000,"n":139},{"p":"E1","s":"yes_high","t":2000,"n":67},{"p":"E1","s":"yes_high","t":3000,"n":20},{"p":"E1","s":"yes_high","t":4000,"n":3},{"p":"E1","s":"yes_high","t":5000,"n":0},
{"p":"E1","s":"yes_low","t":0,"n":348},{"p":"E1","s":"yes_low","t":1000,"n":174},{"p":"E1","s":"yes_low","t":2000,"n":114},{"p":"E1","s":"yes_low","t":3000,"n":68},{"p":"E1","s":"yes_low","t":4000,"n":29},{"p":"E1","s":"yes_low","t":5000,"n":0},
{"p":"E2","s":"no_High","t":0,"n":133},{"p":"E2","s":"no_High","t":1000,"n":50},{"p":"E2","s":"no_High","t":2000,"n":28},{"p":"E2","s":"no_High","t":3000,"n":8},{"p":"E2","s":"no_High","t":4000,"n":3},{"p":"E2","s":"no_High","t":5000,"n":0},
{"p":"E2","s":"no_Low","t":0,"n":132},{"p":"E2","s":"no_Low","t":1000,"n":86},{"p":"E2","s":"no_Low","t":2000,"n":58},{"p":"E2","s":"no_Low","t":3000,"n":36},{"p":"E2","s":"no_Low","t":4000,"n":22},{"p":"E2","s":"no_Low","t":5000,"n":0},
{"p":"E2","s":"yes_high","t":0,"n":333},{"p":"E2","s":"yes_high","t":1000,"n":103},{"p":"E2","s":"yes_high","t":2000,"n":46},{"p":"E2","s":"yes_high","t":3000,"n":14},{"p":"E2","s":"yes_high","t":4000,"n":3},{"p":"E2","s":"yes_high","t":5000,"n":1},
{"p":"E2","s":"yes_low","t":0,"n":333},{"p":"E2","s":"yes_low","t":1000,"n":183},{"p":"E2","s":"yes_low","t":2000,"n":109},{"p":"E2","s":"yes_low","t":3000,"n":44},{"p":"E2","s":"yes_low","t":4000,"n":12},{"p":"E2","s":"yes_low","t":5000,"n":0}
]
},
"vconcat": [
{"title": {"text": "A", "anchor": "start", "font": "Liberation Serif", "fontSize": 19, "offset": -17},
 "spacing": 3,
 "resolve": {"scale": {"color": "independent"}, "legend": {"color": "independent"}},
 "hconcat": [
  {"spacing": 2, "vconcat": [
   {"title": "TCGA DSS LGG", "width": 196, "height": 56, "layer": [
    {"data": {"name": "km"}, "transform": [{"filter": "datum.p=='A1'"}], "mark": "line", "encoding": {
      "x": {"field": "t", "type": "quantitative", "scale": {"domain": [-250, 6350]}, "axis": {"values": [0, 2000, 4000, 6000], "title": "Day"}},
      "y": {"field": "y", "type": "quantitative", "scale": {"domain": [-0.05, 1.05]}, "axis": {"values": [0, 0.25, 0.5, 0.75, 1], "format": ".2f", "title": "Survival probability", "labelOverlap": false}},
      "color": {"field": "s", "type": "nominal", "scale": {"domain": ["High", "Low"], "range": ["#FF0000", "#0000FF"]}, "legend": {"title": "Strata", "orient": "none", "legendX": 68, "legendY": -11}}}},
    {"data": {"name": "km"}, "transform": [{"filter": "datum.p=='A1'"}], "mark": "point", "encoding": {"x": {"field": "t", "type": "quantitative"}, "y": {"field": "y", "type": "quantitative", "axis": {"values": [0, 0.25, 0.5, 0.75, 1], "format": ".2f", "title": "Survival probability", "labelOverlap": false}}, "color": {"field": "s", "type": "nominal"}}},
    {"data": {"name": "med"}, "transform": [{"filter": "datum.p=='A1'"}], "mark": "rule", "encoding": {"x": {"field": "t", "type": "quantitative"}, "y": {"datum": 0, "axis": {"values": [0, 0.25, 0.5, 0.75, 1], "format": ".2f", "title": "Survival probability", "labelOverlap": false}}, "y2": {"datum": 0.5}}},
    {"data": {"name": "med"}, "transform": [{"filter": "datum.p=='A1'"}, {"aggregate": [{"op": "max", "field": "t", "as": "m"}]}], "mark": "rule", "encoding": {"x": {"field": "m", "type": "quantitative"}, "x2": {"datum": 0}, "y": {"datum": 0.5, "axis": {"values": [0, 0.25, 0.5, 0.75, 1], "format": ".2f", "title": "Survival probability", "labelOverlap": false}}}},
    {"data": {"name": "ann"}, "transform": [{"filter": "datum.p=='A1'"}], "mark": {"type": "text", "align": "left", "baseline": "middle", "fontSize": 7, "lineBreak": "|"}, "encoding": {"x": {"datum": 100}, "y": {"datum": 0.24, "axis": {"values": [0, 0.25, 0.5, 0.75, 1], "format": ".2f", "title": "Survival probability", "labelOverlap": false}}, "text": {"field": "label"}}}
   ]},
   {"title": {"text": "Number at risk", "anchor": "start", "fontSize": 8, "fontWeight": "normal", "color": "#333", "offset": 2}, "width": 196, "height": 19,
    "data": {"name": "risk"}, "transform": [{"filter": "datum.p=='A1'"}], "mark": "text", "encoding": {
      "x": {"field": "t", "type": "quantitative", "scale": {"domain": [-250, 6350]}, "axis": {"values": [0, 2000, 4000, 6000], "title": "Day"}},
      "y": {"field": "s", "type": "nominal", "sort": ["High", "Low"], "axis": {"title": "Strata", "labelColor": {"condition": {"test": "datum.value=='High'", "value": "#FF0000"}, "value": "#0000FF"}}},
      "text": {"field": "n"}}}
  ]},
  {"spacing": 2, "vconcat": [
   {"title": "TCGA OS LGG", "width": 196, "height": 56, "layer": [
    {"data": {"name": "km"}, "transform": [{"filter": "datum.p=='A2'"}], "mark": "line", "encoding": {
      "x": {"field": "t", "type": "quantitative", "scale": {"domain": [-250, 6350]}, "axis": {"values": [0, 2000, 4000, 6000], "title": "Day"}},
      "y": {"field": "y", "type": "quantitative", "scale": {"domain": [-0.05, 1.05]}, "axis": {"values": [0, 0.25, 0.5, 0.75, 1], "format": ".2f", "title": "Survival probability", "labelOverlap": false}},
      "color": {"field": "s", "type": "nominal", "scale": {"domain": ["High", "Low"], "range": ["#FF0000", "#0000FF"]}, "legend": {"title": "Strata", "orient": "none", "legendX": 68, "legendY": -11}}}},
    {"data": {"name": "km"}, "transform": [{"filter": "datum.p=='A2'"}], "mark": "point", "encoding": {"x": {"field": "t", "type": "quantitative"}, "y": {"field": "y", "type": "quantitative", "axis": {"values": [0, 0.25, 0.5, 0.75, 1], "format": ".2f", "title": "Survival probability", "labelOverlap": false}}, "color": {"field": "s", "type": "nominal"}}},
    {"data": {"name": "med"}, "transform": [{"filter": "datum.p=='A2'"}], "mark": "rule", "encoding": {"x": {"field": "t", "type": "quantitative"}, "y": {"datum": 0, "axis": {"values": [0, 0.25, 0.5, 0.75, 1], "format": ".2f", "title": "Survival probability", "labelOverlap": false}}, "y2": {"datum": 0.5}}},
    {"data": {"name": "med"}, "transform": [{"filter": "datum.p=='A2'"}, {"aggregate": [{"op": "max", "field": "t", "as": "m"}]}], "mark": "rule", "encoding": {"x": {"field": "m", "type": "quantitative"}, "x2": {"datum": 0}, "y": {"datum": 0.5, "axis": {"values": [0, 0.25, 0.5, 0.75, 1], "format": ".2f", "title": "Survival probability", "labelOverlap": false}}}},
    {"data": {"name": "ann"}, "transform": [{"filter": "datum.p=='A2'"}], "mark": {"type": "text", "align": "left", "baseline": "middle", "fontSize": 7, "lineBreak": "|"}, "encoding": {"x": {"datum": 100}, "y": {"datum": 0.24, "axis": {"values": [0, 0.25, 0.5, 0.75, 1], "format": ".2f", "title": "Survival probability", "labelOverlap": false}}, "text": {"field": "label"}}}
   ]},
   {"title": {"text": "Number at risk", "anchor": "start", "fontSize": 8, "fontWeight": "normal", "color": "#333", "offset": 2}, "width": 196, "height": 19,
    "data": {"name": "risk"}, "transform": [{"filter": "datum.p=='A2'"}], "mark": "text", "encoding": {
      "x": {"field": "t", "type": "quantitative", "scale": {"domain": [-250, 6350]}, "axis": {"values": [0, 2000, 4000, 6000], "title": "Day"}},
      "y": {"field": "s", "type": "nominal", "sort": ["High", "Low"], "axis": {"title": "Strata", "labelColor": {"condition": {"test": "datum.value=='High'", "value": "#FF0000"}, "value": "#0000FF"}}},
      "text": {"field": "n"}}}
  ]},
  {"spacing": 2, "vconcat": [
   {"title": "TCGA PFI LGG", "width": 196, "height": 56, "layer": [
    {"data": {"name": "km"}, "transform": [{"filter": "datum.p=='A3'"}], "mark": "line", "encoding": {
      "x": {"field": "t", "type": "quantitative", "scale": {"domain": [-250, 5300]}, "axis": {"values": [0, 1000, 2000, 3000, 4000, 5000], "title": "Day"}},
      "y": {"field": "y", "type": "quantitative", "scale": {"domain": [-0.05, 1.05]}, "axis": {"values": [0, 0.25, 0.5, 0.75, 1], "format": ".2f", "title": "Survival probability", "labelOverlap": false}},
      "color": {"field": "s", "type": "nominal", "scale": {"domain": ["High", "Low"], "range": ["#FF0000", "#0000FF"]}, "legend": {"title": "Strata", "orient": "none", "legendX": 68, "legendY": -11}}}},
    {"data": {"name": "km"}, "transform": [{"filter": "datum.p=='A3'"}], "mark": "point", "encoding": {"x": {"field": "t", "type": "quantitative"}, "y": {"field": "y", "type": "quantitative", "axis": {"values": [0, 0.25, 0.5, 0.75, 1], "format": ".2f", "title": "Survival probability", "labelOverlap": false}}, "color": {"field": "s", "type": "nominal"}}},
    {"data": {"name": "med"}, "transform": [{"filter": "datum.p=='A3'"}], "mark": "rule", "encoding": {"x": {"field": "t", "type": "quantitative"}, "y": {"datum": 0, "axis": {"values": [0, 0.25, 0.5, 0.75, 1], "format": ".2f", "title": "Survival probability", "labelOverlap": false}}, "y2": {"datum": 0.5}}},
    {"data": {"name": "med"}, "transform": [{"filter": "datum.p=='A3'"}, {"aggregate": [{"op": "max", "field": "t", "as": "m"}]}], "mark": "rule", "encoding": {"x": {"field": "m", "type": "quantitative"}, "x2": {"datum": 0}, "y": {"datum": 0.5, "axis": {"values": [0, 0.25, 0.5, 0.75, 1], "format": ".2f", "title": "Survival probability", "labelOverlap": false}}}},
    {"data": {"name": "ann"}, "transform": [{"filter": "datum.p=='A3'"}], "mark": {"type": "text", "align": "left", "baseline": "middle", "fontSize": 7, "lineBreak": "|"}, "encoding": {"x": {"datum": 100}, "y": {"datum": 0.24, "axis": {"values": [0, 0.25, 0.5, 0.75, 1], "format": ".2f", "title": "Survival probability", "labelOverlap": false}}, "text": {"field": "label"}}}
   ]},
   {"title": {"text": "Number at risk", "anchor": "start", "fontSize": 8, "fontWeight": "normal", "color": "#333", "offset": 2}, "width": 196, "height": 19,
    "data": {"name": "risk"}, "transform": [{"filter": "datum.p=='A3'"}], "mark": "text", "encoding": {
      "x": {"field": "t", "type": "quantitative", "scale": {"domain": [-250, 5300]}, "axis": {"values": [0, 1000, 2000, 3000, 4000, 5000], "title": "Day"}},
      "y": {"field": "s", "type": "nominal", "sort": ["High", "Low"], "axis": {"title": "Strata", "labelColor": {"condition": {"test": "datum.value=='High'", "value": "#FF0000"}, "value": "#0000FF"}}},
      "text": {"field": "n"}}}
  ]}
 ]},
{"title": {"text": "B", "anchor": "start", "font": "Liberation Serif", "fontSize": 19, "offset": -13},
 "spacing": 3,
 "resolve": {"scale": {"color": "independent"}, "legend": {"color": "independent"}},
 "hconcat": [
  {"spacing": 2, "vconcat": [
   {"title": "TCGA DSS pan", "width": 196, "height": 58, "layer": [
    {"data": {"name": "km"}, "transform": [{"filter": "datum.p=='B1'"}], "mark": "line", "encoding": {
      "x": {"field": "t", "type": "quantitative", "scale": {"domain": [-250, 6350]}, "axis": {"values": [0, 2000, 4000, 6000], "title": "Day"}},
      "y": {"field": "y", "type": "quantitative", "scale": {"domain": [-0.05, 1.05]}, "axis": {"values": [0, 0.25, 0.5, 0.75, 1], "format": ".2f", "title": "Survival probability", "labelOverlap": false}},
      "color": {"field": "s", "type": "nominal", "scale": {"domain": ["High", "Low"], "range": ["#FF0000", "#0000FF"]}, "legend": {"title": "Strata", "orient": "none", "legendX": 68, "legendY": -11}}}},
    {"data": {"name": "km"}, "transform": [{"filter": "datum.p=='B1'"}], "mark": "point", "encoding": {"x": {"field": "t", "type": "quantitative"}, "y": {"field": "y", "type": "quantitative", "axis": {"values": [0, 0.25, 0.5, 0.75, 1], "format": ".2f", "title": "Survival probability", "labelOverlap": false}}, "color": {"field": "s", "type": "nominal"}}},
    {"data": {"name": "med"}, "transform": [{"filter": "datum.p=='B1'"}], "mark": "rule", "encoding": {"x": {"field": "t", "type": "quantitative"}, "y": {"datum": 0, "axis": {"values": [0, 0.25, 0.5, 0.75, 1], "format": ".2f", "title": "Survival probability", "labelOverlap": false}}, "y2": {"datum": 0.5}}},
    {"data": {"name": "med"}, "transform": [{"filter": "datum.p=='B1'"}, {"aggregate": [{"op": "max", "field": "t", "as": "m"}]}], "mark": "rule", "encoding": {"x": {"field": "m", "type": "quantitative"}, "x2": {"datum": 0}, "y": {"datum": 0.5, "axis": {"values": [0, 0.25, 0.5, 0.75, 1], "format": ".2f", "title": "Survival probability", "labelOverlap": false}}}},
    {"data": {"name": "ann"}, "transform": [{"filter": "datum.p=='B1'"}], "mark": {"type": "text", "align": "left", "baseline": "middle", "fontSize": 7, "lineBreak": "|"}, "encoding": {"x": {"datum": 100}, "y": {"datum": 0.24, "axis": {"values": [0, 0.25, 0.5, 0.75, 1], "format": ".2f", "title": "Survival probability", "labelOverlap": false}}, "text": {"field": "label"}}}
   ]},
   {"title": {"text": "Number at risk", "anchor": "start", "fontSize": 8, "fontWeight": "normal", "color": "#333", "offset": 2}, "width": 196, "height": 19,
    "data": {"name": "risk"}, "transform": [{"filter": "datum.p=='B1'"}], "mark": "text", "encoding": {
      "x": {"field": "t", "type": "quantitative", "scale": {"domain": [-250, 6350]}, "axis": {"values": [0, 2000, 4000, 6000], "title": "Day"}},
      "y": {"field": "s", "type": "nominal", "sort": ["High", "Low"], "axis": {"title": "Strata", "labelColor": {"condition": {"test": "datum.value=='High'", "value": "#FF0000"}, "value": "#0000FF"}}},
      "text": {"field": "n"}}}
  ]},
  {"spacing": 2, "vconcat": [
   {"title": "TCGA OS pan", "width": 196, "height": 58, "layer": [
    {"data": {"name": "km"}, "transform": [{"filter": "datum.p=='B2'"}], "mark": "line", "encoding": {
      "x": {"field": "t", "type": "quantitative", "scale": {"domain": [-250, 6350]}, "axis": {"values": [0, 2000, 4000, 6000], "title": "Day"}},
      "y": {"field": "y", "type": "quantitative", "scale": {"domain": [-0.05, 1.05]}, "axis": {"values": [0, 0.25, 0.5, 0.75, 1], "format": ".2f", "title": "Survival probability", "labelOverlap": false}},
      "color": {"field": "s", "type": "nominal", "scale": {"domain": ["High", "Low"], "range": ["#FF0000", "#0000FF"]}, "legend": {"title": "Strata", "orient": "none", "legendX": 68, "legendY": -11}}}},
    {"data": {"name": "km"}, "transform": [{"filter": "datum.p=='B2'"}], "mark": "point", "encoding": {"x": {"field": "t", "type": "quantitative"}, "y": {"field": "y", "type": "quantitative", "axis": {"values": [0, 0.25, 0.5, 0.75, 1], "format": ".2f", "title": "Survival probability", "labelOverlap": false}}, "color": {"field": "s", "type": "nominal"}}},
    {"data": {"name": "med"}, "transform": [{"filter": "datum.p=='B2'"}], "mark": "rule", "encoding": {"x": {"field": "t", "type": "quantitative"}, "y": {"datum": 0, "axis": {"values": [0, 0.25, 0.5, 0.75, 1], "format": ".2f", "title": "Survival probability", "labelOverlap": false}}, "y2": {"datum": 0.5}}},
    {"data": {"name": "med"}, "transform": [{"filter": "datum.p=='B2'"}, {"aggregate": [{"op": "max", "field": "t", "as": "m"}]}], "mark": "rule", "encoding": {"x": {"field": "m", "type": "quantitative"}, "x2": {"datum": 0}, "y": {"datum": 0.5, "axis": {"values": [0, 0.25, 0.5, 0.75, 1], "format": ".2f", "title": "Survival probability", "labelOverlap": false}}}},
    {"data": {"name": "ann"}, "transform": [{"filter": "datum.p=='B2'"}], "mark": {"type": "text", "align": "left", "baseline": "middle", "fontSize": 7, "lineBreak": "|"}, "encoding": {"x": {"datum": 100}, "y": {"datum": 0.24, "axis": {"values": [0, 0.25, 0.5, 0.75, 1], "format": ".2f", "title": "Survival probability", "labelOverlap": false}}, "text": {"field": "label"}}}
   ]},
   {"title": {"text": "Number at risk", "anchor": "start", "fontSize": 8, "fontWeight": "normal", "color": "#333", "offset": 2}, "width": 196, "height": 19,
    "data": {"name": "risk"}, "transform": [{"filter": "datum.p=='B2'"}], "mark": "text", "encoding": {
      "x": {"field": "t", "type": "quantitative", "scale": {"domain": [-250, 6350]}, "axis": {"values": [0, 2000, 4000, 6000], "title": "Day"}},
      "y": {"field": "s", "type": "nominal", "sort": ["High", "Low"], "axis": {"title": "Strata", "labelColor": {"condition": {"test": "datum.value=='High'", "value": "#FF0000"}, "value": "#0000FF"}}},
      "text": {"field": "n"}}}
  ]},
  {"spacing": 2, "vconcat": [
   {"title": "TCGA PFI pan", "width": 196, "height": 58, "layer": [
    {"data": {"name": "km"}, "transform": [{"filter": "datum.p=='B3'"}], "mark": "line", "encoding": {
      "x": {"field": "t", "type": "quantitative", "scale": {"domain": [-250, 5350]}, "axis": {"values": [0, 1000, 2000, 3000, 4000, 5000], "title": "Day"}},
      "y": {"field": "y", "type": "quantitative", "scale": {"domain": [-0.05, 1.05]}, "axis": {"values": [0, 0.25, 0.5, 0.75, 1], "format": ".2f", "title": "Survival probability", "labelOverlap": false}},
      "color": {"field": "s", "type": "nominal", "scale": {"domain": ["High", "Low"], "range": ["#FF0000", "#0000FF"]}, "legend": {"title": "Strata", "orient": "none", "legendX": 68, "legendY": -11}}}},
    {"data": {"name": "km"}, "transform": [{"filter": "datum.p=='B3'"}], "mark": "point", "encoding": {"x": {"field": "t", "type": "quantitative"}, "y": {"field": "y", "type": "quantitative", "axis": {"values": [0, 0.25, 0.5, 0.75, 1], "format": ".2f", "title": "Survival probability", "labelOverlap": false}}, "color": {"field": "s", "type": "nominal"}}},
    {"data": {"name": "med"}, "transform": [{"filter": "datum.p=='B3'"}], "mark": "rule", "encoding": {"x": {"field": "t", "type": "quantitative"}, "y": {"datum": 0, "axis": {"values": [0, 0.25, 0.5, 0.75, 1], "format": ".2f", "title": "Survival probability", "labelOverlap": false}}, "y2": {"datum": 0.5}}},
    {"data": {"name": "med"}, "transform": [{"filter": "datum.p=='B3'"}, {"aggregate": [{"op": "max", "field": "t", "as": "m"}]}], "mark": "rule", "encoding": {"x": {"field": "m", "type": "quantitative"}, "x2": {"datum": 0}, "y": {"datum": 0.5, "axis": {"values": [0, 0.25, 0.5, 0.75, 1], "format": ".2f", "title": "Survival probability", "labelOverlap": false}}}},
    {"data": {"name": "ann"}, "transform": [{"filter": "datum.p=='B3'"}], "mark": {"type": "text", "align": "left", "baseline": "middle", "fontSize": 7, "lineBreak": "|"}, "encoding": {"x": {"datum": 100}, "y": {"datum": 0.24, "axis": {"values": [0, 0.25, 0.5, 0.75, 1], "format": ".2f", "title": "Survival probability", "labelOverlap": false}}, "text": {"field": "label"}}}
   ]},
   {"title": {"text": "Number at risk", "anchor": "start", "fontSize": 8, "fontWeight": "normal", "color": "#333", "offset": 2}, "width": 196, "height": 19,
    "data": {"name": "risk"}, "transform": [{"filter": "datum.p=='B3'"}], "mark": "text", "encoding": {
      "x": {"field": "t", "type": "quantitative", "scale": {"domain": [-250, 5350]}, "axis": {"values": [0, 1000, 2000, 3000, 4000, 5000], "title": "Day"}},
      "y": {"field": "s", "type": "nominal", "sort": ["High", "Low"], "axis": {"title": "Strata", "labelColor": {"condition": {"test": "datum.value=='High'", "value": "#FF0000"}, "value": "#0000FF"}}},
      "text": {"field": "n"}}}
  ]}
 ]},
{"title": {"text": "C", "anchor": "start", "font": "Liberation Serif", "fontSize": 19, "offset": -13},
 "spacing": 3,
 "resolve": {"scale": {"color": "independent"}, "legend": {"color": "independent"}},
 "hconcat": [
  {"spacing": 2, "vconcat": [
   {"title": "TCGA OS 1p19q", "width": 187, "height": 56, "layer": [
    {"data": {"name": "km"}, "transform": [{"filter": "datum.p=='C1'"}], "mark": {"type": "line", "strokeWidth": 0.9}, "encoding": {
      "x": {"field": "t", "type": "quantitative", "scale": {"domain": [-250, 6400]}, "axis": {"values": [0, 2000, 4000, 6000], "title": "Day"}},
      "y": {"field": "y", "type": "quantitative", "scale": {"domain": [-0.05, 1.05]}, "axis": {"values": [0, 0.25, 0.5, 0.75, 1], "format": ".2f", "title": "Survival probability", "labelOverlap": false}},
      "color": {"field": "s", "type": "nominal", "scale": {"domain": ["no_High", "no_Low", "yes_high", "yes_low"], "range": ["#F02424", "#6CA6DA", "#9E45D6", "#80D81F"]}, "legend": {"title": "Strata", "orient": "none", "legendX": 26, "legendY": -11}}}},
    {"data": {"name": "km"}, "transform": [{"filter": "datum.p=='C1'"}], "mark": "point", "encoding": {"x": {"field": "t", "type": "quantitative"}, "y": {"field": "y", "type": "quantitative", "axis": {"values": [0, 0.25, 0.5, 0.75, 1], "format": ".2f", "title": "Survival probability", "labelOverlap": false}}, "color": {"field": "s", "type": "nominal"}}},
    {"data": {"name": "med"}, "transform": [{"filter": "datum.p=='C1'"}], "mark": {"type": "rule", "strokeDash": [7, 5], "color": "#000", "strokeWidth": 0.9}, "encoding": {"x": {"field": "t", "type": "quantitative"}, "y": {"datum": 0, "axis": {"values": [0, 0.25, 0.5, 0.75, 1], "format": ".2f", "title": "Survival probability", "labelOverlap": false}}, "y2": {"datum": 0.5}}},
    {"data": {"name": "med"}, "transform": [{"filter": "datum.p=='C1'"}, {"aggregate": [{"op": "max", "field": "t", "as": "m"}]}], "mark": {"type": "rule", "strokeDash": [7, 5], "color": "#000", "strokeWidth": 0.9}, "encoding": {"x": {"field": "m", "type": "quantitative"}, "x2": {"datum": 0}, "y": {"datum": 0.5, "axis": {"values": [0, 0.25, 0.5, 0.75, 1], "format": ".2f", "title": "Survival probability", "labelOverlap": false}}}},
    {"data": {"name": "ann"}, "transform": [{"filter": "datum.p=='C1'"}], "mark": {"type": "text", "align": "center", "baseline": "middle", "fontSize": 4, "lineHeight": 5, "lineBreak": "|"}, "encoding": {"x": {"datum": 3050}, "y": {"datum": 0.5, "axis": {"values": [0, 0.25, 0.5, 0.75, 1], "format": ".2f", "title": "Survival probability", "labelOverlap": false}}, "text": {"field": "label"}}}
   ]},
   {"title": {"text": "Number at risk", "anchor": "start", "fontSize": 8, "fontWeight": "normal", "color": "#333", "offset": 2}, "width": 187, "height": 20,
    "data": {"name": "risk"}, "transform": [{"filter": "datum.p=='C1'"}], "mark": {"type": "text", "fontSize": 5}, "encoding": {
      "x": {"field": "t", "type": "quantitative", "scale": {"domain": [-250, 6400]}, "axis": {"values": [0, 2000, 4000, 6000], "title": "Day"}},
      "y": {"field": "s", "type": "nominal", "sort": ["no_High", "no_Low", "yes_high", "yes_low"], "axis": {"title": "Strata", "labelFontSize": 5, "labelColor": {"condition": [{"test": "datum.value=='no_High'", "value": "#F02424"}, {"test": "datum.value=='no_Low'", "value": "#6CA6DA"}, {"test": "datum.value=='yes_high'", "value": "#9E45D6"}], "value": "#80D81F"}}},
      "text": {"field": "n"}}}
  ]},
  {"spacing": 2, "vconcat": [
   {"title": "TCGA OS MGMT", "width": 187, "height": 56, "layer": [
    {"data": {"name": "km"}, "transform": [{"filter": "datum.p=='C2'"}], "mark": {"type": "line", "strokeWidth": 0.9}, "encoding": {
      "x": {"field": "t", "type": "quantitative", "scale": {"domain": [-250, 6400]}, "axis": {"values": [0, 2000, 4000, 6000], "title": "Day"}},
      "y": {"field": "y", "type": "quantitative", "scale": {"domain": [-0.05, 1.05]}, "axis": {"values": [0, 0.25, 0.5, 0.75, 1], "format": ".2f", "title": "Survival probability", "labelOverlap": false}},
      "color": {"field": "s", "type": "nominal", "scale": {"domain": ["no_High", "no_Low", "yes_high", "yes_low"], "range": ["#F02424", "#6CA6DA", "#9E45D6", "#80D81F"]}, "legend": {"title": "Strata", "orient": "none", "legendX": 26, "legendY": -11}}}},
    {"data": {"name": "km"}, "transform": [{"filter": "datum.p=='C2'"}], "mark": "point", "encoding": {"x": {"field": "t", "type": "quantitative"}, "y": {"field": "y", "type": "quantitative", "axis": {"values": [0, 0.25, 0.5, 0.75, 1], "format": ".2f", "title": "Survival probability", "labelOverlap": false}}, "color": {"field": "s", "type": "nominal"}}},
    {"data": {"name": "med"}, "transform": [{"filter": "datum.p=='C2'"}], "mark": {"type": "rule", "strokeDash": [7, 5], "color": "#000", "strokeWidth": 0.9}, "encoding": {"x": {"field": "t", "type": "quantitative"}, "y": {"datum": 0, "axis": {"values": [0, 0.25, 0.5, 0.75, 1], "format": ".2f", "title": "Survival probability", "labelOverlap": false}}, "y2": {"datum": 0.5}}},
    {"data": {"name": "med"}, "transform": [{"filter": "datum.p=='C2'"}, {"aggregate": [{"op": "max", "field": "t", "as": "m"}]}], "mark": {"type": "rule", "strokeDash": [7, 5], "color": "#000", "strokeWidth": 0.9}, "encoding": {"x": {"field": "m", "type": "quantitative"}, "x2": {"datum": 0}, "y": {"datum": 0.5, "axis": {"values": [0, 0.25, 0.5, 0.75, 1], "format": ".2f", "title": "Survival probability", "labelOverlap": false}}}},
    {"data": {"name": "ann"}, "transform": [{"filter": "datum.p=='C2'"}], "mark": {"type": "text", "align": "center", "baseline": "middle", "fontSize": 4, "lineHeight": 5, "lineBreak": "|"}, "encoding": {"x": {"datum": 2950}, "y": {"datum": 0.5, "axis": {"values": [0, 0.25, 0.5, 0.75, 1], "format": ".2f", "title": "Survival probability", "labelOverlap": false}}, "text": {"field": "label"}}}
   ]},
   {"title": {"text": "Number at risk", "anchor": "start", "fontSize": 8, "fontWeight": "normal", "color": "#333", "offset": 2}, "width": 187, "height": 20,
    "data": {"name": "risk"}, "transform": [{"filter": "datum.p=='C2'"}], "mark": {"type": "text", "fontSize": 5}, "encoding": {
      "x": {"field": "t", "type": "quantitative", "scale": {"domain": [-250, 6400]}, "axis": {"values": [0, 2000, 4000, 6000], "title": "Day"}},
      "y": {"field": "s", "type": "nominal", "sort": ["no_High", "no_Low", "yes_high", "yes_low"], "axis": {"title": "Strata", "labelFontSize": 5, "labelColor": {"condition": [{"test": "datum.value=='no_High'", "value": "#F02424"}, {"test": "datum.value=='no_Low'", "value": "#6CA6DA"}, {"test": "datum.value=='yes_high'", "value": "#9E45D6"}], "value": "#80D81F"}}},
      "text": {"field": "n"}}}
  ]},
  {"spacing": 2, "vconcat": [
   {"title": "TCGA OS radiotherapy", "width": 187, "height": 56, "layer": [
    {"data": {"name": "km"}, "transform": [{"filter": "datum.p=='C3'"}], "mark": {"type": "line", "strokeWidth": 0.9}, "encoding": {
      "x": {"field": "t", "type": "quantitative", "scale": {"domain": [-300, 6400]}, "axis": {"values": [0, 2000, 4000, 6000], "title": "Day"}},
      "y": {"field": "y", "type": "quantitative", "scale": {"domain": [-0.05, 1.05]}, "axis": {"values": [0, 0.25, 0.5, 0.75, 1], "format": ".2f", "title": "Survival probability", "labelOverlap": false}},
      "color": {"field": "s", "type": "nominal", "scale": {"domain": ["no_High", "no_Low", "yes_high", "yes_low"], "range": ["#F02424", "#6CA6DA", "#9E45D6", "#80D81F"]}, "legend": {"title": "Strata", "orient": "none", "legendX": 26, "legendY": -11}}}},
    {"data": {"name": "km"}, "transform": [{"filter": "datum.p=='C3'"}], "mark": "point", "encoding": {"x": {"field": "t", "type": "quantitative"}, "y": {"field": "y", "type": "quantitative", "axis": {"values": [0, 0.25, 0.5, 0.75, 1], "format": ".2f", "title": "Survival probability", "labelOverlap": false}}, "color": {"field": "s", "type": "nominal"}}},
    {"data": {"name": "med"}, "transform": [{"filter": "datum.p=='C3'"}], "mark": {"type": "rule", "strokeDash": [7, 5], "color": "#000", "strokeWidth": 0.9}, "encoding": {"x": {"field": "t", "type": "quantitative"}, "y": {"datum": 0, "axis": {"values": [0, 0.25, 0.5, 0.75, 1], "format": ".2f", "title": "Survival probability", "labelOverlap": false}}, "y2": {"datum": 0.5}}},
    {"data": {"name": "med"}, "transform": [{"filter": "datum.p=='C3'"}, {"aggregate": [{"op": "max", "field": "t", "as": "m"}]}], "mark": {"type": "rule", "strokeDash": [7, 5], "color": "#000", "strokeWidth": 0.9}, "encoding": {"x": {"field": "m", "type": "quantitative"}, "x2": {"datum": 0}, "y": {"datum": 0.5, "axis": {"values": [0, 0.25, 0.5, 0.75, 1], "format": ".2f", "title": "Survival probability", "labelOverlap": false}}}},
    {"data": {"name": "ann"}, "transform": [{"filter": "datum.p=='C3'"}], "mark": {"type": "text", "align": "center", "baseline": "middle", "fontSize": 4, "lineHeight": 5, "lineBreak": "|"}, "encoding": {"x": {"datum": 3060}, "y": {"datum": 0.45, "axis": {"values": [0, 0.25, 0.5, 0.75, 1], "format": ".2f", "title": "Survival probability", "labelOverlap": false}}, "text": {"field": "label"}}}
   ]},
   {"title": {"text": "Number at risk", "anchor": "start", "fontSize": 8, "fontWeight": "normal", "color": "#333", "offset": 2}, "width": 187, "height": 20,
    "data": {"name": "risk"}, "transform": [{"filter": "datum.p=='C3'"}], "mark": {"type": "text", "fontSize": 5}, "encoding": {
      "x": {"field": "t", "type": "quantitative", "scale": {"domain": [-300, 6400]}, "axis": {"values": [0, 2000, 4000, 6000], "title": "Day"}},
      "y": {"field": "s", "type": "nominal", "sort": ["no_High", "no_Low", "yes_high", "yes_low"], "axis": {"title": "Strata", "labelFontSize": 5, "labelColor": {"condition": [{"test": "datum.value=='no_High'", "value": "#F02424"}, {"test": "datum.value=='no_Low'", "value": "#6CA6DA"}, {"test": "datum.value=='yes_high'", "value": "#9E45D6"}], "value": "#80D81F"}}},
      "text": {"field": "n"}}}
  ]}
 ]},
{"title": {"text": "D", "anchor": "start", "font": "Liberation Serif", "fontSize": 19, "offset": -13},
 "spacing": 3,
 "resolve": {"scale": {"color": "independent"}, "legend": {"color": "independent"}},
 "hconcat": [
  {"spacing": 2, "vconcat": [
   {"title": "CCGA OS 1p19q", "width": 187, "height": 56, "layer": [
    {"data": {"name": "km"}, "transform": [{"filter": "datum.p=='D1'"}], "mark": {"type": "line", "strokeWidth": 0.9}, "encoding": {
      "x": {"field": "t", "type": "quantitative", "scale": {"domain": [-250, 5250]}, "axis": {"values": [0, 1000, 2000, 3000, 4000, 5000], "title": "Day"}},
      "y": {"field": "y", "type": "quantitative", "scale": {"domain": [-0.05, 1.05]}, "axis": {"values": [0, 0.25, 0.5, 0.75, 1], "format": ".2f", "title": "Survival probability", "labelOverlap": false}},
      "color": {"field": "s", "type": "nominal", "scale": {"domain": ["no_High", "no_Low", "yes_high", "yes_low"], "range": ["#F02424", "#6CA6DA", "#9E45D6", "#80D81F"]}, "legend": {"title": "Strata", "orient": "none", "legendX": 26, "legendY": -11}}}},
    {"data": {"name": "km"}, "transform": [{"filter": "datum.p=='D1'"}], "mark": "point", "encoding": {"x": {"field": "t", "type": "quantitative"}, "y": {"field": "y", "type": "quantitative", "axis": {"values": [0, 0.25, 0.5, 0.75, 1], "format": ".2f", "title": "Survival probability", "labelOverlap": false}}, "color": {"field": "s", "type": "nominal"}}},
    {"data": {"name": "med"}, "transform": [{"filter": "datum.p=='D1'"}], "mark": {"type": "rule", "strokeDash": [7, 5], "color": "#000", "strokeWidth": 0.9}, "encoding": {"x": {"field": "t", "type": "quantitative"}, "y": {"datum": 0, "axis": {"values": [0, 0.25, 0.5, 0.75, 1], "format": ".2f", "title": "Survival probability", "labelOverlap": false}}, "y2": {"datum": 0.5}}},
    {"data": {"name": "med"}, "transform": [{"filter": "datum.p=='D1'"}, {"aggregate": [{"op": "max", "field": "t", "as": "m"}]}], "mark": {"type": "rule", "strokeDash": [7, 5], "color": "#000", "strokeWidth": 0.9}, "encoding": {"x": {"field": "m", "type": "quantitative"}, "x2": {"datum": 0}, "y": {"datum": 0.5, "axis": {"values": [0, 0.25, 0.5, 0.75, 1], "format": ".2f", "title": "Survival probability", "labelOverlap": false}}}},
    {"data": {"name": "ann"}, "transform": [{"filter": "datum.p=='D1'"}], "mark": {"type": "text", "align": "center", "baseline": "middle", "fontSize": 4, "lineHeight": 5, "lineBreak": "|"}, "encoding": {"x": {"datum": 2650}, "y": {"datum": 0.5, "axis": {"values": [0, 0.25, 0.5, 0.75, 1], "format": ".2f", "title": "Survival probability", "labelOverlap": false}}, "text": {"field": "label"}}}
   ]},
   {"title": {"text": "Number at risk", "anchor": "start", "fontSize": 8, "fontWeight": "normal", "color": "#333", "offset": 2}, "width": 187, "height": 21,
    "data": {"name": "risk"}, "transform": [{"filter": "datum.p=='D1'"}], "mark": {"type": "text", "fontSize": 5}, "encoding": {
      "x": {"field": "t", "type": "quantitative", "scale": {"domain": [-250, 5250]}, "axis": {"values": [0, 1000, 2000, 3000, 4000, 5000], "title": "Day"}},
      "y": {"field": "s", "type": "nominal", "sort": ["no_High", "no_Low", "yes_high", "yes_low"], "axis": {"title": "Strata", "labelFontSize": 5, "labelColor": {"condition": [{"test": "datum.value=='no_High'", "value": "#F02424"}, {"test": "datum.value=='no_Low'", "value": "#6CA6DA"}, {"test": "datum.value=='yes_high'", "value": "#9E45D6"}], "value": "#80D81F"}}},
      "text": {"field": "n"}}}
  ]},
  {"spacing": 2, "vconcat": [
   {"title": "CCGA OS MGMT", "width": 187, "height": 56, "layer": [
    {"data": {"name": "km"}, "transform": [{"filter": "datum.p=='D2'"}], "mark": {"type": "line", "strokeWidth": 0.9}, "encoding": {
      "x": {"field": "t", "type": "quantitative", "scale": {"domain": [-250, 5250]}, "axis": {"values": [0, 1000, 2000, 3000, 4000, 5000], "title": "Day"}},
      "y": {"field": "y", "type": "quantitative", "scale": {"domain": [-0.05, 1.05]}, "axis": {"values": [0, 0.25, 0.5, 0.75, 1], "format": ".2f", "title": "Survival probability", "labelOverlap": false}},
      "color": {"field": "s", "type": "nominal", "scale": {"domain": ["no_High", "no_Low", "yes_high", "yes_low"], "range": ["#F02424", "#6CA6DA", "#9E45D6", "#80D81F"]}, "legend": {"title": "Strata", "orient": "none", "legendX": 26, "legendY": -11}}}},
    {"data": {"name": "km"}, "transform": [{"filter": "datum.p=='D2'"}], "mark": "point", "encoding": {"x": {"field": "t", "type": "quantitative"}, "y": {"field": "y", "type": "quantitative", "axis": {"values": [0, 0.25, 0.5, 0.75, 1], "format": ".2f", "title": "Survival probability", "labelOverlap": false}}, "color": {"field": "s", "type": "nominal"}}},
    {"data": {"name": "med"}, "transform": [{"filter": "datum.p=='D2'"}], "mark": {"type": "rule", "strokeDash": [7, 5], "color": "#000", "strokeWidth": 0.9}, "encoding": {"x": {"field": "t", "type": "quantitative"}, "y": {"datum": 0, "axis": {"values": [0, 0.25, 0.5, 0.75, 1], "format": ".2f", "title": "Survival probability", "labelOverlap": false}}, "y2": {"datum": 0.5}}},
    {"data": {"name": "med"}, "transform": [{"filter": "datum.p=='D2'"}, {"aggregate": [{"op": "max", "field": "t", "as": "m"}]}], "mark": {"type": "rule", "strokeDash": [7, 5], "color": "#000", "strokeWidth": 0.9}, "encoding": {"x": {"field": "m", "type": "quantitative"}, "x2": {"datum": 0}, "y": {"datum": 0.5, "axis": {"values": [0, 0.25, 0.5, 0.75, 1], "format": ".2f", "title": "Survival probability", "labelOverlap": false}}}},
    {"data": {"name": "ann"}, "transform": [{"filter": "datum.p=='D2'"}], "mark": {"type": "text", "align": "center", "baseline": "middle", "fontSize": 4, "lineHeight": 5, "lineBreak": "|"}, "encoding": {"x": {"datum": 2950}, "y": {"datum": 0.5, "axis": {"values": [0, 0.25, 0.5, 0.75, 1], "format": ".2f", "title": "Survival probability", "labelOverlap": false}}, "text": {"field": "label"}}}
   ]},
   {"title": {"text": "Number at risk", "anchor": "start", "fontSize": 8, "fontWeight": "normal", "color": "#333", "offset": 2}, "width": 187, "height": 21,
    "data": {"name": "risk"}, "transform": [{"filter": "datum.p=='D2'"}], "mark": {"type": "text", "fontSize": 5}, "encoding": {
      "x": {"field": "t", "type": "quantitative", "scale": {"domain": [-250, 5250]}, "axis": {"values": [0, 1000, 2000, 3000, 4000, 5000], "title": "Day"}},
      "y": {"field": "s", "type": "nominal", "sort": ["no_High", "no_Low", "yes_high", "yes_low"], "axis": {"title": "Strata", "labelFontSize": 5, "labelColor": {"condition": [{"test": "datum.value=='no_High'", "value": "#F02424"}, {"test": "datum.value=='no_Low'", "value": "#6CA6DA"}, {"test": "datum.value=='yes_high'", "value": "#9E45D6"}], "value": "#80D81F"}}},
      "text": {"field": "n"}}}
  ]},
  {"spacing": 2, "vconcat": [
   {"title": "CCGA OS radiotherapy", "width": 187, "height": 56, "layer": [
    {"data": {"name": "km"}, "transform": [{"filter": "datum.p=='D3'"}], "mark": {"type": "line", "strokeWidth": 0.9}, "encoding": {
      "x": {"field": "t", "type": "quantitative", "scale": {"domain": [-250, 5250]}, "axis": {"values": [0, 1000, 2000, 3000, 4000, 5000], "title": "Day"}},
      "y": {"field": "y", "type": "quantitative", "scale": {"domain": [-0.05, 1.05]}, "axis": {"values": [0, 0.25, 0.5, 0.75, 1], "format": ".2f", "title": "Survival probability", "labelOverlap": false}},
      "color": {"field": "s", "type": "nominal", "scale": {"domain": ["no_High", "no_Low", "yes_high", "yes_low"], "range": ["#F02424", "#6CA6DA", "#9E45D6", "#80D81F"]}, "legend": {"title": "Strata", "orient": "none", "legendX": 26, "legendY": -11}}}},
    {"data": {"name": "km"}, "transform": [{"filter": "datum.p=='D3'"}], "mark": "point", "encoding": {"x": {"field": "t", "type": "quantitative"}, "y": {"field": "y", "type": "quantitative", "axis": {"values": [0, 0.25, 0.5, 0.75, 1], "format": ".2f", "title": "Survival probability", "labelOverlap": false}}, "color": {"field": "s", "type": "nominal"}}},
    {"data": {"name": "med"}, "transform": [{"filter": "datum.p=='D3'"}], "mark": {"type": "rule", "strokeDash": [7, 5], "color": "#000", "strokeWidth": 0.9}, "encoding": {"x": {"field": "t", "type": "quantitative"}, "y": {"datum": 0, "axis": {"values": [0, 0.25, 0.5, 0.75, 1], "format": ".2f", "title": "Survival probability", "labelOverlap": false}}, "y2": {"datum": 0.5}}},
    {"data": {"name": "med"}, "transform": [{"filter": "datum.p=='D3'"}, {"aggregate": [{"op": "max", "field": "t", "as": "m"}]}], "mark": {"type": "rule", "strokeDash": [7, 5], "color": "#000", "strokeWidth": 0.9}, "encoding": {"x": {"field": "m", "type": "quantitative"}, "x2": {"datum": 0}, "y": {"datum": 0.5, "axis": {"values": [0, 0.25, 0.5, 0.75, 1], "format": ".2f", "title": "Survival probability", "labelOverlap": false}}}},
    {"data": {"name": "ann"}, "transform": [{"filter": "datum.p=='D3'"}], "mark": {"type": "text", "align": "center", "baseline": "middle", "fontSize": 4, "lineHeight": 5, "lineBreak": "|"}, "encoding": {"x": {"datum": 2970}, "y": {"datum": 0.5, "axis": {"values": [0, 0.25, 0.5, 0.75, 1], "format": ".2f", "title": "Survival probability", "labelOverlap": false}}, "text": {"field": "label"}}}
   ]},
   {"title": {"text": "Number at risk", "anchor": "start", "fontSize": 8, "fontWeight": "normal", "color": "#333", "offset": 2}, "width": 187, "height": 21,
    "data": {"name": "risk"}, "transform": [{"filter": "datum.p=='D3'"}], "mark": {"type": "text", "fontSize": 5}, "encoding": {
      "x": {"field": "t", "type": "quantitative", "scale": {"domain": [-250, 5250]}, "axis": {"values": [0, 1000, 2000, 3000, 4000, 5000], "title": "Day"}},
      "y": {"field": "s", "type": "nominal", "sort": ["no_High", "no_Low", "yes_high", "yes_low"], "axis": {"title": "Strata", "labelFontSize": 5, "labelColor": {"condition": [{"test": "datum.value=='no_High'", "value": "#F02424"}, {"test": "datum.value=='no_Low'", "value": "#6CA6DA"}, {"test": "datum.value=='yes_high'", "value": "#9E45D6"}], "value": "#80D81F"}}},
      "text": {"field": "n"}}}
  ]}
 ]},
{"spacing": 30,
 "resolve": {"scale": {"color": "independent"}, "legend": {"color": "independent"}},
 "hconcat": [
  {"spacing": 2, "vconcat": [
   {"title": "CCGA OS IDH", "width": 193, "height": 57, "layer": [
    {"data": {"name": "km"}, "transform": [{"filter": "datum.p=='E1'"}], "mark": {"type": "line", "strokeWidth": 0.9}, "encoding": {
      "x": {"field": "t", "type": "quantitative", "scale": {"domain": [-250, 5150]}, "axis": {"values": [0, 1000, 2000, 3000, 4000, 5000], "title": "Day"}},
      "y": {"field": "y", "type": "quantitative", "scale": {"domain": [-0.05, 1.05]}, "axis": {"values": [0, 0.25, 0.5, 0.75, 1], "format": ".2f", "title": "Survival probability", "labelOverlap": false}},
      "color": {"field": "s", "type": "nominal", "scale": {"domain": ["no_High", "no_Low", "yes_high", "yes_low"], "range": ["#F02424", "#6CA6DA", "#9E45D6", "#80D81F"]}, "legend": {"title": "Strata", "orient": "none", "legendX": 30, "legendY": -11}}}},
    {"data": {"name": "km"}, "transform": [{"filter": "datum.p=='E1'"}], "mark": "point", "encoding": {"x": {"field": "t", "type": "quantitative"}, "y": {"field": "y", "type": "quantitative", "axis": {"values": [0, 0.25, 0.5, 0.75, 1], "format": ".2f", "title": "Survival probability", "labelOverlap": false}}, "color": {"field": "s", "type": "nominal"}}},
    {"data": {"name": "med"}, "transform": [{"filter": "datum.p=='E1'"}], "mark": {"type": "rule", "strokeDash": [7, 5], "color": "#000", "strokeWidth": 0.9}, "encoding": {"x": {"field": "t", "type": "quantitative"}, "y": {"datum": 0, "axis": {"values": [0, 0.25, 0.5, 0.75, 1], "format": ".2f", "title": "Survival probability", "labelOverlap": false}}, "y2": {"datum": 0.5}}},
    {"data": {"name": "med"}, "transform": [{"filter": "datum.p=='E1'"}, {"aggregate": [{"op": "max", "field": "t", "as": "m"}]}], "mark": {"type": "rule", "strokeDash": [7, 5], "color": "#000", "strokeWidth": 0.9}, "encoding": {"x": {"field": "m", "type": "quantitative"}, "x2": {"datum": 0}, "y": {"datum": 0.5, "axis": {"values": [0, 0.25, 0.5, 0.75, 1], "format": ".2f", "title": "Survival probability", "labelOverlap": false}}}},
    {"data": {"name": "ann"}, "transform": [{"filter": "datum.p=='E1'"}], "mark": {"type": "text", "align": "center", "baseline": "middle", "fontSize": 4, "lineHeight": 5, "lineBreak": "|"}, "encoding": {"x": {"datum": 3000}, "y": {"datum": 0.5, "axis": {"values": [0, 0.25, 0.5, 0.75, 1], "format": ".2f", "title": "Survival probability", "labelOverlap": false}}, "text": {"field": "label"}}}
   ]},
   {"title": {"text": "Number at risk", "anchor": "start", "fontSize": 8, "fontWeight": "normal", "color": "#333", "offset": 2}, "width": 193, "height": 20,
    "data": {"name": "risk"}, "transform": [{"filter": "datum.p=='E1'"}], "mark": {"type": "text", "fontSize": 5}, "encoding": {
      "x": {"field": "t", "type": "quantitative", "scale": {"domain": [-250, 5150]}, "axis": {"values": [0, 1000, 2000, 3000, 4000, 5000], "title": "Day"}},
      "y": {"field": "s", "type": "nominal", "sort": ["no_High", "no_Low", "yes_high", "yes_low"], "axis": {"title": "Strata", "labelFontSize": 5, "labelColor": {"condition": [{"test": "datum.value=='no_High'", "value": "#F02424"}, {"test": "datum.value=='no_Low'", "value": "#6CA6DA"}, {"test": "datum.value=='yes_high'", "value": "#9E45D6"}], "value": "#80D81F"}}},
      "text": {"field": "n"}}}
  ]},
  {"spacing": 2, "vconcat": [
   {"title": "CCGA OS chemotherapy", "width": 193, "height": 57, "layer": [
    {"data": {"name": "km"}, "transform": [{"filter": "datum.p=='E2'"}], "mark": {"type": "line", "strokeWidth": 0.9}, "encoding": {
      "x": {"field": "t", "type": "quantitative", "scale": {"domain": [-250, 5150]}, "axis": {"values": [0, 1000, 2000, 3000, 4000, 5000], "title": "Day"}},
      "y": {"field": "y", "type": "quantitative", "scale": {"domain": [-0.05, 1.05]}, "axis": {"values": [0, 0.25, 0.5, 0.75, 1], "format": ".2f", "title": "Survival probability", "labelOverlap": false}},
      "color": {"field": "s", "type": "nominal", "scale": {"domain": ["no_High", "no_Low", "yes_high", "yes_low"], "range": ["#F02424", "#6CA6DA", "#9E45D6", "#80D81F"]}, "legend": {"title": "Strata", "orient": "none", "legendX": 30, "legendY": -11}}}},
    {"data": {"name": "km"}, "transform": [{"filter": "datum.p=='E2'"}], "mark": "point", "encoding": {"x": {"field": "t", "type": "quantitative"}, "y": {"field": "y", "type": "quantitative", "axis": {"values": [0, 0.25, 0.5, 0.75, 1], "format": ".2f", "title": "Survival probability", "labelOverlap": false}}, "color": {"field": "s", "type": "nominal"}}},
    {"data": {"name": "med"}, "transform": [{"filter": "datum.p=='E2'"}], "mark": {"type": "rule", "strokeDash": [7, 5], "color": "#000", "strokeWidth": 0.9}, "encoding": {"x": {"field": "t", "type": "quantitative"}, "y": {"datum": 0, "axis": {"values": [0, 0.25, 0.5, 0.75, 1], "format": ".2f", "title": "Survival probability", "labelOverlap": false}}, "y2": {"datum": 0.5}}},
    {"data": {"name": "med"}, "transform": [{"filter": "datum.p=='E2'"}, {"aggregate": [{"op": "max", "field": "t", "as": "m"}]}], "mark": {"type": "rule", "strokeDash": [7, 5], "color": "#000", "strokeWidth": 0.9}, "encoding": {"x": {"field": "m", "type": "quantitative"}, "x2": {"datum": 0}, "y": {"datum": 0.5, "axis": {"values": [0, 0.25, 0.5, 0.75, 1], "format": ".2f", "title": "Survival probability", "labelOverlap": false}}}},
    {"data": {"name": "ann"}, "transform": [{"filter": "datum.p=='E2'"}], "mark": {"type": "text", "align": "center", "baseline": "middle", "fontSize": 4, "lineHeight": 5, "lineBreak": "|"}, "encoding": {"x": {"datum": 2950}, "y": {"datum": 0.55, "axis": {"values": [0, 0.25, 0.5, 0.75, 1], "format": ".2f", "title": "Survival probability", "labelOverlap": false}}, "text": {"field": "label"}}}
   ]},
   {"title": {"text": "Number at risk", "anchor": "start", "fontSize": 8, "fontWeight": "normal", "color": "#333", "offset": 2}, "width": 193, "height": 20,
    "data": {"name": "risk"}, "transform": [{"filter": "datum.p=='E2'"}], "mark": {"type": "text", "fontSize": 5}, "encoding": {
      "x": {"field": "t", "type": "quantitative", "scale": {"domain": [-250, 5150]}, "axis": {"values": [0, 1000, 2000, 3000, 4000, 5000], "title": "Day"}},
      "y": {"field": "s", "type": "nominal", "sort": ["no_High", "no_Low", "yes_high", "yes_low"], "axis": {"title": "Strata", "labelFontSize": 5, "labelColor": {"condition": [{"test": "datum.value=='no_High'", "value": "#F02424"}, {"test": "datum.value=='no_Low'", "value": "#6CA6DA"}, {"test": "datum.value=='yes_high'", "value": "#9E45D6"}], "value": "#80D81F"}}},
      "text": {"field": "n"}}}
  ]}
 ]}
],
"spacing": 4,
"center": true,
"resolve": {"scale": {"color": "independent"}, "legend": {"color": "independent"}},
"config": {
 "font": "Liberation Sans",
 "numberFormat": "d",
 "view": {"stroke": null},
 "axis": {"grid": false, "domainColor": "#000", "domainWidth": 0.8, "tickColor": "#000", "tickWidth": 0.8, "tickSize": 2, "labelFontSize": 6, "labelColor": "#4d4d4d", "labelPadding": 1, "titleFontSize": 7, "titleFontWeight": "normal", "titleColor": "#222", "titlePadding": 1},
 "legend": {"direction": "horizontal", "titleOrient": "left", "titleFontSize": 5, "titleFontWeight": "normal", "titleColor": "#333", "labelFontSize": 5, "labelColor": "#333", "symbolType": "stroke", "symbolSize": 50, "symbolStrokeWidth": 1.2, "columnPadding": 5, "padding": 0, "titlePadding": 4, "labelOffset": 2},
 "title": {"fontSize": 15, "fontWeight": "bold", "color": "#000", "offset": 16},
 "line": {"interpolate": "step-after", "strokeWidth": 1.3},
 "point": {"shape": "M-1,0H1M0,-1V1", "size": 7, "filled": false, "strokeWidth": 0.6, "opacity": 1},
 "rule": {"strokeDash": [3, 2], "color": "#555", "strokeWidth": 0.7},
 "text": {"fontSize": 6, "color": "#333"}
}
}
